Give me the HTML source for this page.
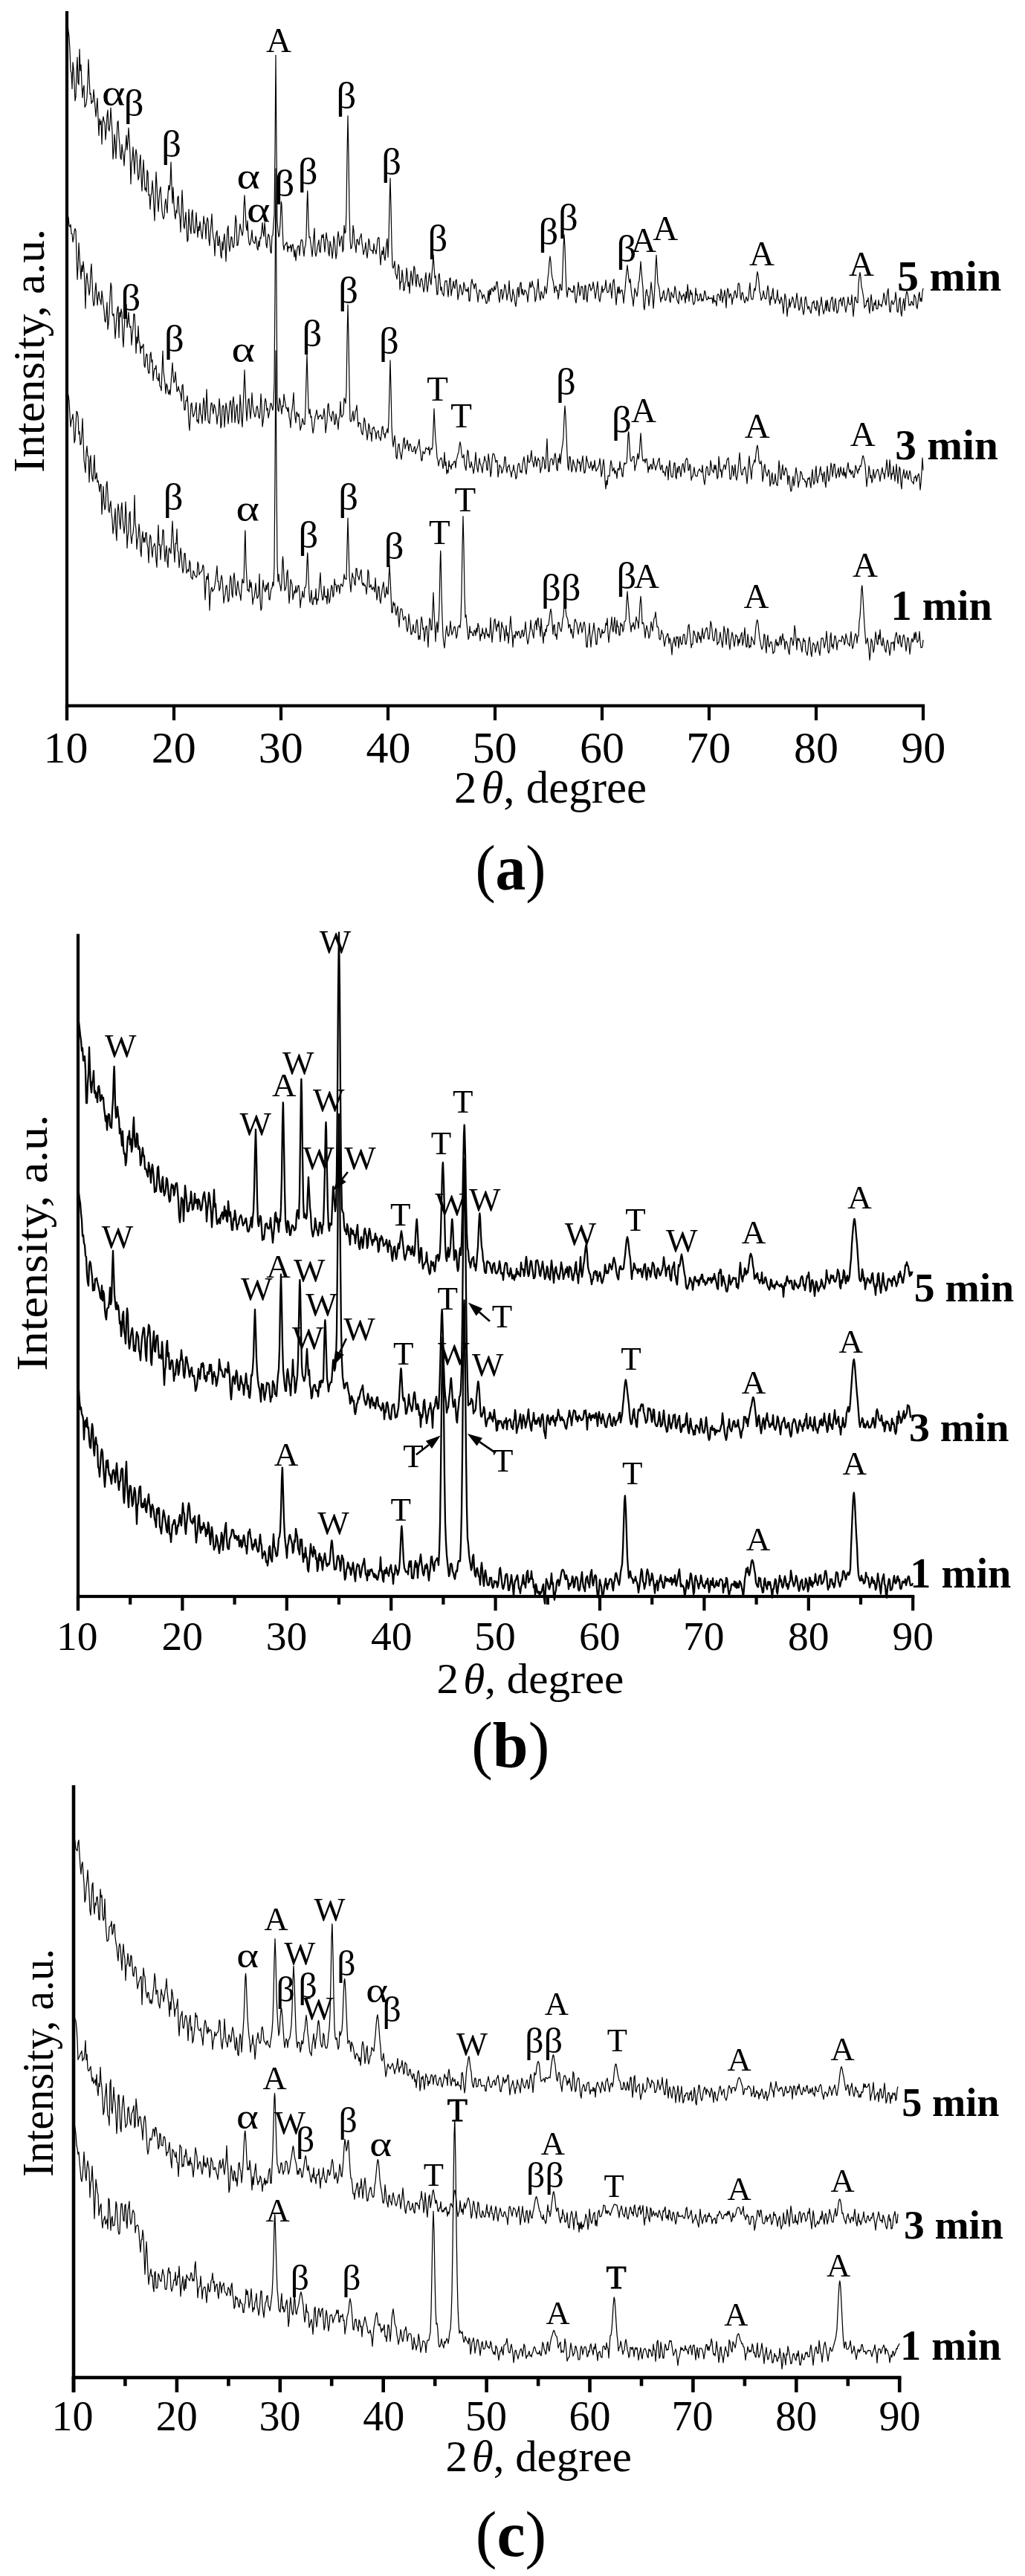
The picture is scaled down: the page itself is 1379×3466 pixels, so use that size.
<!DOCTYPE html><html><head><meta charset="utf-8"><style>html,body{margin:0;padding:0;background:#fff}svg{display:block;will-change:transform}text{font-family:"Liberation Serif", serif;fill:#000}</style></head><body>
<svg width="1379" height="3466" viewBox="0 0 1379 3466">
<rect width="1379" height="3466" fill="#fff"/>
<rect x="87.9" y="15" width="4.2" height="954.2"/>
<rect x="87.9" y="947.5" width="1156.2" height="4.2"/>
<rect x="87.9" y="949.6" width="4.2" height="19.6"/>
<text x="58.5" y="1026" font-size="60">10</text>
<rect x="231.9" y="949.6" width="4.2" height="19.6"/>
<text x="203.8" y="1026" font-size="60">20</text>
<rect x="375.9" y="949.6" width="4.2" height="19.6"/>
<text x="347.7" y="1026" font-size="60">30</text>
<rect x="519.9" y="949.6" width="4.2" height="19.6"/>
<text x="492.6" y="1026" font-size="60">40</text>
<rect x="663.9" y="949.6" width="4.2" height="19.6"/>
<text x="635.4" y="1026" font-size="60">50</text>
<rect x="807.9" y="949.6" width="4.2" height="19.6"/>
<text x="779.9" y="1026" font-size="60">60</text>
<rect x="951.9" y="949.6" width="4.2" height="19.6"/>
<text x="923.2" y="1026" font-size="60">70</text>
<rect x="1095.9" y="949.6" width="4.2" height="19.6"/>
<text x="1068" y="1026" font-size="60">80</text>
<rect x="1239.9" y="949.6" width="4.2" height="19.6"/>
<text x="1212.2" y="1026" font-size="60">90</text>
<text x="611" y="1080" font-size="61" textLength="259" lengthAdjust="spacingAndGlyphs">2<tspan font-style="italic" dx="6">θ</tspan>, degree</text>
<text transform="translate(59,636) rotate(-90)" x="0" y="0" font-size="60" textLength="328" lengthAdjust="spacingAndGlyphs">Intensity, a.u.</text>
<text transform="translate(643,1197.3) scale(0.949,1)" x="-3.8" y="0" font-size="86">(<tspan font-weight="bold">a</tspan>)</text>
<rect x="102.9" y="1256.6" width="4.2" height="910.5"/>
<rect x="102.9" y="2145.9" width="1127.4" height="4.2"/>
<rect x="102.9" y="2148" width="4.2" height="19.1"/>
<text x="75.9" y="2220" font-size="55.5">10</text>
<rect x="173.1" y="2148" width="4.2" height="10.9"/>
<rect x="243.3" y="2148" width="4.2" height="19.1"/>
<text x="217.5" y="2220" font-size="55.5">20</text>
<rect x="313.5" y="2148" width="4.2" height="10.9"/>
<rect x="383.7" y="2148" width="4.2" height="19.1"/>
<text x="357.8" y="2220" font-size="55.5">30</text>
<rect x="453.9" y="2148" width="4.2" height="10.9"/>
<rect x="524.1" y="2148" width="4.2" height="19.1"/>
<text x="499" y="2220" font-size="55.5">40</text>
<rect x="594.3" y="2148" width="4.2" height="10.9"/>
<rect x="664.5" y="2148" width="4.2" height="19.1"/>
<text x="638.3" y="2220" font-size="55.5">50</text>
<rect x="734.7" y="2148" width="4.2" height="10.9"/>
<rect x="804.9" y="2148" width="4.2" height="19.1"/>
<text x="779.1" y="2220" font-size="55.5">60</text>
<rect x="875.1" y="2148" width="4.2" height="10.9"/>
<rect x="945.3" y="2148" width="4.2" height="19.1"/>
<text x="918.9" y="2220" font-size="55.5">70</text>
<rect x="1015.5" y="2148" width="4.2" height="10.9"/>
<rect x="1085.7" y="2148" width="4.2" height="19.1"/>
<text x="1060" y="2220" font-size="55.5">80</text>
<rect x="1155.9" y="2148" width="4.2" height="10.9"/>
<rect x="1226.1" y="2148" width="4.2" height="19.1"/>
<text x="1200.6" y="2220" font-size="55.5">90</text>
<text x="587.5" y="2278" font-size="57" textLength="251.8" lengthAdjust="spacingAndGlyphs">2<tspan font-style="italic" dx="6">θ</tspan>, degree</text>
<text transform="translate(62.9,1844.6) rotate(-90)" x="0" y="0" font-size="60" textLength="344.8" lengthAdjust="spacingAndGlyphs">Intensity, a.u.</text>
<text transform="translate(638,2376.7) scale(1.0,1)" x="-3.8" y="0" font-size="86">(<tspan font-weight="bold">b</tspan>)</text>
<rect x="96.7" y="2402" width="4.6" height="816.8"/>
<rect x="96.7" y="3196.7" width="1115.8" height="4.6"/>
<rect x="96.7" y="3199" width="4.6" height="19.8"/>
<text x="69.6" y="3270" font-size="56">10</text>
<rect x="166.1" y="3199" width="4.6" height="11.4"/>
<rect x="235.6" y="3199" width="4.6" height="19.8"/>
<text x="209.7" y="3270" font-size="56">20</text>
<rect x="305.1" y="3199" width="4.6" height="11.4"/>
<rect x="374.5" y="3199" width="4.6" height="19.8"/>
<text x="348.5" y="3270" font-size="56">30</text>
<rect x="443.9" y="3199" width="4.6" height="11.4"/>
<rect x="513.4" y="3199" width="4.6" height="19.8"/>
<text x="488.2" y="3270" font-size="56">40</text>
<rect x="582.9" y="3199" width="4.6" height="11.4"/>
<rect x="652.3" y="3199" width="4.6" height="19.8"/>
<text x="626" y="3270" font-size="56">50</text>
<rect x="721.8" y="3199" width="4.6" height="11.4"/>
<rect x="791.2" y="3199" width="4.6" height="19.8"/>
<text x="765.4" y="3270" font-size="56">60</text>
<rect x="860.7" y="3199" width="4.6" height="11.4"/>
<rect x="930.1" y="3199" width="4.6" height="19.8"/>
<text x="903.6" y="3270" font-size="56">70</text>
<rect x="999.6" y="3199" width="4.6" height="11.4"/>
<rect x="1069" y="3199" width="4.6" height="19.8"/>
<text x="1043.3" y="3270" font-size="56">80</text>
<rect x="1138.5" y="3199" width="4.6" height="11.4"/>
<rect x="1207.9" y="3199" width="4.6" height="19.8"/>
<text x="1182.4" y="3270" font-size="56">90</text>
<text x="599.5" y="3324.7" font-size="60" textLength="250.5" lengthAdjust="spacingAndGlyphs">2<tspan font-style="italic" dx="6">θ</tspan>, degree</text>
<text transform="translate(70.7,2929) rotate(-90)" x="0" y="0" font-size="60" textLength="307" lengthAdjust="spacingAndGlyphs">Intensity, a.u.</text>
<text transform="translate(643.6,3438.7) scale(1.0,1)" x="-3.8" y="0" font-size="86">(<tspan font-weight="bold">c</tspan>)</text>
<polyline fill="none" stroke="#000" stroke-width="1.2" stroke-linejoin="round" points="91,32 92,42.1 93,49.2 94,67.7 95,95.6 96,97.8 97,119.5 98,83.8 99,92.9 100,113.7 101,135.6 102,130.2 103,96.2 104,77 105,111.6 106,113.9 107,66 108,95.2 109,87.2 110,113.3 111,131.5 112,118.8 113,114.8 114,144.2 115,142.6 116,139.7 117,130.7 118,110.8 119,80 120,103.4 121,126.8 122,125.4 123,139.4 124,136.1 125,137.2 126,120.7 127,131.4 128,144.7 129,157 130,144.2 131,132.1 132,158.5 133,182.3 134,159.9 135,167.4 136,162.6 137,194 138,163 139,156.8 140,163.6 141,165.5 142,187.9 143,175.5 144,155.7 145,148 146,173.2 147,176.3 148,166.2 149,145 150,161.8 151,177.9 152,214 153,203.5 154,180.8 155,192.4 156,213.2 157,187.2 158,164.8 159,162.7 160,183.7 161,194.6 162,211.5 163,214.6 164,194.4 165,203.7 166,210.2 167,222.9 168,204.6 169,198.5 170,182.1 171,201.6 172,189.5 173,172 174,187.9 175,206.9 176,247.6 177,220.2 178,213.7 179,197.8 180,216.6 181,234 182,209.2 183,201 184,207.9 185,229.1 186,242.1 187,237.7 188,217.6 189,208.3 190,238.8 191,257 192,235.4 193,215.2 194,234.2 195,255.7 196,252.8 197,258.1 198,229 199,232.4 200,262.7 201,261.8 202,281.4 203,263.5 204,259.5 205,243.2 206,256.7 207,278.4 208,296.9 209,264 210,231.3 211,249 212,268.8 213,284.5 214,267.4 215,256.7 216,251.4 217,267.8 218,283.4 219,291.3 220,294.7 221,290.1 222,273.2 223,267.7 224,277.7 225,286.4 226,261 227,249.3 228,255.6 229,246.7 230,218 231,248.5 232,273.5 233,252 234,274.5 235,288.2 236,294.6 237,282.9 238,286.4 239,265.7 240,263.8 241,286.7 242,292.3 243,312.2 244,282.9 245,255.9 246,277.4 247,303.1 248,307.6 249,296.2 250,285.5 251,305.8 252,325.1 253,323 254,281.5 255,297.7 256,308.7 257,314.3 258,287.5 259,282.3 260,303.4 261,313.7 262,313.4 263,301.5 264,286 265,304.3 266,319.1 267,304.5 268,310.4 269,298 270,307.1 271,315.4 272,321.5 273,309.3 274,290.8 275,300.6 276,301.3 277,321.4 278,299.4 279,292.9 280,297.1 281,322.6 282,330.5 283,312 284,302.1 285,287.9 286,310.5 287,319.8 288,324.2 289,344.1 290,321.1 291,313.7 292,310.4 293,330.2 294,330.5 295,317.5 296,326.9 297,343.3 298,347.3 299,325.3 300,336.3 301,321.1 302,314.5 303,330.5 304,351.7 305,329.5 306,307.8 307,303.8 308,329.6 309,338.3 310,329 311,318.5 312,319.6 313,330.7 314,333.3 315,328.4 316,308.3 317,289.9 318,297.9 319,330.4 320,329.7 321,321.8 322,311.5 323,301.4 324,308 325,312.3 326,317.2 327,311.2 328,279 329,262.9 330,279.5 331,303.3 332,310.2 333,297.1 334,317.3 335,326.8 336,329.9 337,326.6 338,319.1 339,309.6 340,324.3 341,325 342,327.2 343,327.3 344,317.8 345,323.2 346,333.9 347,336.5 348,324.1 349,331.6 350,319.5 351,320.9 352,311.1 353,299.6 354,312.2 355,318.1 356,299.6 357,309.8 358,328.6 359,333.5 360,321.3 361,314.9 362,317.1 363,323.6 364,339.2 365,340.7 366,317.2 367,316.8 368,301.5 369,288.6 370,202.2 371,74.3 372,201 373,297.4 374,310.8 375,318.7 376,315.8 377,301.1 378,276 378.5,271.4 379,276.6 380,304.1 381,329.1 382,336.3 383,330 384,329.5 385,327.1 386,325.8 387,338.8 388,331.1 389,333.7 390,333.1 391,329.4 392,338.6 393,330.8 394,328.5 395,335.3 396,345.6 397,336.2 398,350.7 399,341 400,333.7 401,330.8 402,330.8 403,343.7 404,331 405,323 406,322.4 407,324.4 408,336.9 409,344.6 410,332.7 411,330.8 412,319.3 413,276.3 413.7,256.9 414,261.2 415,301.2 416,319.7 417,318.8 418,327 419,335.5 420,345.2 421,333.6 422,319.4 423,307.1 424,339.9 425,344.8 426,340.1 427,332.7 428,328 429,322.8 430,338.2 431,339.8 432,325.5 433,316.1 434,319.7 435,315.2 436,328 437,339 438,324.8 439,313 440,321.4 441,325 442,340.5 443,344.3 444,324.5 445,330.1 446,335 447,347.7 448,338 449,317.8 450,322.8 451,335.6 452,348.1 453,341.8 454,320.9 455,311.5 456,319.5 457,331.4 458,325.3 459,320 460,317.4 461,339 462,335.6 463,303.4 464,313.6 465,312.3 466,283.9 467,208.9 468,155.9 469,209.8 470,283.9 471,321.7 472,334.7 473,333.7 474,326.6 475,303.3 476,310.9 477,327.1 478,330.9 479,339.8 480,322.6 481,321.9 482,327 483,329.7 484,320.6 485,317.9 486,314.3 487,327.2 488,333.2 489,342.7 490,337.9 491,334.6 492,326.4 493,340.7 494,347.1 495,337.1 496,321.2 497,324.7 498,336 499,336.5 500,337.2 501,336.8 502,341.4 503,327.8 504,336.1 505,336.9 506,341.9 507,333 508,321.9 509,319.6 510,320.1 511,342.7 512,356.4 513,344.3 514,337.3 515,342.7 516,332 517,346.3 518,350.4 519,339.4 520,327.4 521,321.2 522,346.1 523,321.4 524,274.5 525,239.9 526,278.8 527,328.8 528,358.2 529,361 530,357.2 531,351.3 532,368.1 533,370.5 534,375.7 535,366.3 536,355.9 537,359.6 538,389.7 539,379.2 540,379.3 541,363.3 542,372.2 543,391.1 544,390.5 545,379.9 546,379.1 547,360.5 548,368.9 549,385.3 550,379.5 551,394.6 552,376.1 553,364.5 554,373.7 555,384 556,370.8 557,358.1 558,361 559,378.7 560,385.6 561,369.5 562,369.6 563,377.9 564,383.1 565,386.3 566,376.4 567,374.6 568,377.5 569,385.3 570,392.9 571,388.1 572,374.3 573,366.8 574,383.5 575,392.8 576,384 577,372.6 578,367.2 579,378.4 580,383.1 581,369.2 582,356.2 583,343 584,359 585,373.9 586,371 587,384.7 588,396.7 589,395.3 590,370.9 591,368 592,378.3 593,390.8 594,386 595,394.6 596,395.6 597,398.3 598,384.1 599,377.8 600,378.1 601,377.7 602,389.6 603,399.3 604,386.7 605,374.7 606,373.9 607,397.8 608,390.6 609,386.5 610,378.3 611,386.2 612,388.2 613,378.1 614,376.1 615,386.3 616,403.2 617,397.5 618,390.2 619,382.9 620,386.3 621,392.7 622,396.8 623,392.9 624,379.9 625,383.5 626,390.3 627,391.6 628,389 629,392.4 630,386.5 631,404.9 632,405.1 633,393 634,380.4 635,375.7 636,382 637,382.8 638,388.7 639,382.9 640,381.6 641,391.5 642,396.1 643,406.5 644,398.1 645,390.1 646,390.4 647,393.2 648,395.2 649,402.2 650,397.8 651,396.3 652,400 653,402.2 654,408.1 655,408.1 656,403 657,391 658,405.4 659,389.5 660,396.6 661,388.7 662,387.5 663,391.4 664,392.3 665,384.8 666,390.2 667,387.7 668,379.2 669,379.1 670,388.9 671,400.7 672,406.8 673,397.7 674,389.7 675,389.7 676,402.8 677,398 678,392.2 679,382.6 680,384.9 681,392.9 682,404 683,396.5 684,393.9 685,377.8 686,393.5 687,401.4 688,406.4 689,402 690,389.1 691,395.2 692,398.3 693,408.2 694,412.5 695,403.6 696,389.1 697,386.4 698,399.6 699,390.9 700,380.8 701,380 702,395.7 703,389.1 704,397 705,396.2 706,390.2 707,391.1 708,393.2 709,396.8 710,406.4 711,396.1 712,387.4 713,379.6 714,386.9 715,385.4 716,378.1 717,384.4 718,386.7 719,389.2 720,405.9 721,402.7 722,393.8 723,385.7 724,375.4 725,392.1 726,399 727,403.9 728,392.1 729,394 730,399.6 731,401.4 732,395.5 733,385.2 734,389.7 735,395.1 736,386.4 737,374.6 738,366.9 739,352.7 740,344.8 741,352.3 742,367 743,373.7 744,377.5 745,383.7 746,393.9 747,386.6 748,384.8 749,391.6 750,390.6 751,402.4 752,395.2 753,382.6 754,382.9 755,390.5 756,389.9 757,363.9 758,332.9 759,315.8 760,333 761,364.6 762,390.1 763,399.9 764,392 765,386.7 766,389.9 767,388.2 768,391.9 769,392.9 770,391.5 771,393.8 772,384 773,386.7 774,403.6 775,407.6 776,398.8 777,392.1 778,379.5 779,387.1 780,397.9 781,394.4 782,385.6 783,385.3 784,388 785,403 786,402.9 787,383.9 788,384.6 789,402.4 790,406.4 791,392.2 792,385 793,382 794,385.2 795,391.2 796,388.5 797,387.8 798,379.4 799,385.3 800,394.1 801,401.8 802,393.8 803,386.8 804,378.9 805,393 806,402.8 807,406.1 808,399.3 809,392.7 810,384.6 811,393.5 812,389.5 813,389.8 814,387 815,376.8 816,386.8 817,393.5 818,393.3 819,392.6 820,385.4 821,380.8 822,391.4 823,401.3 824,386.8 825,377.6 826,375.7 827,387.1 828,397.2 829,410.1 830,398.8 831,386.2 832,394.7 833,385.5 834,395 835,392.3 836,390.2 837,390.4 838,397.4 839,407.9 840,397.2 841,388.9 842,375.5 843,365.3 844,356.8 845,366.4 846,375.6 847,380.5 848,375.4 849,388.5 850,397.6 851,402 852,412 853,401.6 854,387.8 855,392.1 856,394.4 857,399 858,392.3 859,380.5 860,377.4 861,365.8 862,351.8 863,365.4 864,377.1 865,387.6 866,412.1 867,416.8 868,405.1 869,393 870,389.3 871,397.3 872,398.4 873,411.4 874,402.4 875,392.3 876,379.5 877,389.2 878,399.1 879,414.9 880,402.2 881,384.2 882,359.1 883,343.4 884,361.6 885,380.4 886,384.3 887,388.5 888,399.4 889,406.4 890,400.2 891,401.5 892,393.7 893,390.8 894,399.3 895,404.5 896,403.1 897,398.9 898,393.4 899,387.5 900,392.1 901,404.2 902,407 903,393 904,395.5 905,398.8 906,400.8 907,394.8 908,385 909,389.7 910,399.2 911,404 912,406.3 913,408.9 914,391.9 915,395.7 916,397.9 917,403.9 918,397.9 919,398.1 920,395.3 921,400.8 922,407.6 923,392.5 924,401.4 925,382.7 926,391.4 927,405.4 928,396.2 929,390.1 930,396.4 931,394.1 932,405.1 933,409.9 934,408.7 935,405.1 936,387.5 937,397.2 938,396 939,405 940,403.4 941,403.5 942,395.3 943,395.7 944,405.1 945,402.2 946,405 947,398.4 948,391.2 949,393.6 950,400.6 951,403.7 952,402.6 953,398.8 954,402.2 955,401.4 956,401.2 957,401.3 958,400.9 959,408.2 960,397.3 961,406.3 962,404.4 963,406.2 964,411.7 965,396.9 966,395.6 967,396.8 968,399.7 969,404.6 970,388.9 971,393.2 972,407.1 973,400.6 974,397.3 975,390.3 976,401.9 977,414.2 978,395.1 979,387.9 980,391.1 981,401 982,396.5 983,395.1 984,399.5 985,409.6 986,401 987,401.3 988,392.9 989,390.9 990,395.8 991,400.9 992,397.7 993,382.2 994,380.8 995,384.1 996,398.6 997,403.7 998,394.7 999,393.4 1000,398 1001,404 1002,407.6 1003,404.9 1004,399.3 1005,402.5 1006,405.1 1007,400.4 1008,389.1 1009,380.7 1010,396.8 1011,402.3 1012,403.1 1013,402.2 1014,393.8 1015,387.8 1016,391.2 1017,383.4 1018,371.7 1019,365.6 1020,370.6 1021,379.3 1022,392.5 1023,395.1 1024,404.1 1025,401.3 1026,400 1027,391.2 1028,396 1029,401.1 1030,402.4 1031,401.2 1032,391.7 1033,384.4 1034,390.3 1035,404.3 1036,410.7 1037,399 1038,403 1039,393 1040,387.9 1041,402.1 1042,402.3 1043,408.3 1044,403.6 1045,400.2 1046,390.1 1047,403.8 1048,403.3 1049,408.8 1050,405 1051,399.6 1052,403.4 1053,412.1 1054,422 1055,407.3 1056,395.4 1057,399.2 1058,408.1 1059,425.7 1060,414.7 1061,414 1062,402.1 1063,413.1 1064,407 1065,406.9 1066,399.3 1067,401.6 1068,406.5 1069,414.4 1070,413.1 1071,403 1072,394.3 1073,402.8 1074,410.4 1075,417.6 1076,415 1077,404.4 1078,399.6 1079,411.5 1080,416.8 1081,423.4 1082,418.5 1083,402.2 1084,399.1 1085,405.4 1086,412.3 1087,416.2 1088,412 1089,414.1 1090,418.9 1091,421.6 1092,414.2 1093,406.7 1094,407.4 1095,404.6 1096,414.5 1097,413.9 1098,418 1099,404.4 1100,407.2 1101,415.3 1102,424.9 1103,411.1 1104,410.3 1105,399.5 1106,408.7 1107,416.7 1108,422.4 1109,418.7 1110,414.8 1111,404.7 1112,417.9 1113,403.6 1114,410.3 1115,417.9 1116,419.3 1117,409.2 1118,403.9 1119,400 1120,399.7 1121,415.1 1122,419 1123,407.5 1124,401.5 1125,412.3 1126,421.3 1127,419.8 1128,415.5 1129,403.9 1130,404.9 1131,400.8 1132,408.1 1133,411.8 1134,401.6 1135,399.9 1136,405.7 1137,414.5 1138,420.1 1139,413.4 1140,409.4 1141,399.5 1142,407.3 1143,409.9 1144,409.9 1145,407.8 1146,396.9 1147,412.8 1148,425.8 1149,414.9 1150,400.3 1151,399.7 1152,404.8 1153,407.1 1154,407.3 1155,383.1 1156,372.1 1157,366.6 1158,372.9 1159,385.8 1160,389.5 1161,395.6 1162,402 1163,414.3 1164,411.4 1165,411.7 1166,404.3 1167,405.8 1168,400.6 1169,415 1170,421.5 1171,407.1 1172,396.4 1173,405.3 1174,418.4 1175,417.2 1176,407.3 1177,410.4 1178,403.6 1179,415.5 1180,415.7 1181,415.5 1182,403.5 1183,410.4 1184,410.3 1185,409.8 1186,413 1187,408 1188,404 1189,394.2 1190,397.6 1191,406.8 1192,410.6 1193,401.6 1194,392.2 1195,388.4 1196,406.2 1197,419 1198,420 1199,407 1200,404.3 1201,409.1 1202,409.5 1203,406.5 1204,403.9 1205,393 1206,402.4 1207,418.6 1208,420.3 1209,413.5 1210,402.6 1211,400.4 1212,420.5 1213,425.4 1214,413 1215,406.8 1216,401.5 1217,417.7 1218,408 1219,395.9 1220,392 1221,394.6 1222,401.3 1223,411.2 1224,409.9 1225,410.9 1226,405.4 1227,406.1 1228,410 1229,410.8 1230,396.4 1231,398.6 1232,401.3 1233,412.8 1234,415.4 1235,406.6 1236,396.8 1237,393.1 1238,405.3 1239,401.3 1240,405.8 1241,392.8 1242,387.9"/>
<polyline fill="none" stroke="#000" stroke-width="1.2" stroke-linejoin="round" points="91,290 92,292.2 93,303.6 94,305.2 95,302.1 96,314.4 97,314.3 98,325.7 99,320.8 100,311.2 101,307.5 102,310.7 103,343.6 104,376.1 105,358.7 106,326.8 107,344.8 108,361.1 109,375.4 110,356.8 111,365.4 112,351.8 113,362.2 114,382.9 115,415.1 116,375.9 117,367.6 118,378.6 119,386.6 120,397.1 121,389.8 122,365.2 123,355 124,377.5 125,403.2 126,411.6 127,408.9 128,391.1 129,380.6 130,396.4 131,410.6 132,398.4 133,392.4 134,402.3 135,404.5 136,410 137,391.4 138,400 139,409.2 140,416.9 141,431.4 142,433.4 143,423 144,406.8 145,443.3 146,435.2 147,420.5 148,399.9 149,380.7 150,385.7 151,422 152,424.8 153,422.1 154,436 155,455.4 156,441.6 157,424.8 158,414.5 159,412.3 160,454.3 161,420.2 162,426.3 163,415.9 164,420.8 165,453.8 166,466.9 167,443.8 168,427.5 169,418.7 170,409.6 171,440.6 172,433.1 173,420 174,435.2 175,440.6 176,439.1 177,464.2 178,450.1 179,441.2 180,422.3 181,422.8 182,441.7 183,475.3 184,453.3 185,461.8 186,438.7 187,458.6 188,461.1 189,475.4 190,465.8 191,468.4 192,465.2 193,463 194,491.2 195,494.4 196,482.3 197,476.1 198,477.3 199,497.2 200,502.5 201,501.4 202,477.5 203,473.8 204,487.1 205,484.2 206,512.1 207,501.2 208,495.7 209,496.1 210,491.5 211,509.1 212,509.3 213,512.6 214,502.4 215,519.8 216,520.1 217,525.7 218,498.9 219,472.1 220,499.6 221,507.8 222,516.2 223,529.6 224,516.3 225,519.2 226,526.9 227,530.7 228,524.5 229,531.1 230,516.7 231,501.4 232,488 233,504.9 234,515 235,512.4 236,500.3 237,512.2 238,526.9 239,525.7 240,519.8 241,524.7 242,527.1 243,530.3 244,539.6 245,519.2 246,517.2 247,533.1 248,551.7 249,551.7 250,539 251,539.6 252,532.6 253,546.2 254,568.9 255,579.1 256,562.9 257,544 258,542.1 259,554.7 260,561 261,558.3 262,554.6 263,549.1 264,541.7 265,567.2 266,564.9 267,569.6 268,552.9 269,542.5 270,557.6 271,559.6 272,570 273,550.9 274,535.3 275,542.5 276,565.9 277,554.2 278,523.9 279,546.2 280,565.5 281,568.7 282,569.8 283,553.6 284,542.7 285,542 286,550.7 287,556.8 288,544 289,546.8 290,550.6 291,558.7 292,570.6 293,559.6 294,558.1 295,536.3 296,547.2 297,575.9 298,572 299,549.1 300,545.3 301,548.2 302,574.6 303,558.5 304,542.3 305,548.5 306,558.1 307,570.3 308,557.6 309,543.5 310,538.8 311,548.8 312,568.5 313,541.2 314,533.8 315,545.5 316,568.6 317,559.3 318,548.2 319,544.1 320,565.2 321,570.5 322,564.3 323,531.2 324,544.7 325,564.8 326,574.4 327,550.7 328,524.9 329,497.9 330,522.5 331,548.5 332,566.2 333,551.7 334,537.9 335,536.2 336,552.3 337,563.2 338,549.5 339,528.6 340,545.5 341,552 342,556.6 343,561.1 344,558.5 345,548.3 346,546.2 347,551.7 348,560.7 349,563 350,552.9 351,529.8 352,544 353,574.1 354,567.4 355,558.5 356,543.1 357,536 358,540.7 359,552.2 360,549.3 361,562.5 362,557.5 363,551.1 364,542.6 365,542.8 366,548.2 367,552 368,542.7 369,513.9 370,391.5 371,226.9 372,393.3 373,537.7 374,551.2 375,553.6 376,535.6 377,539.9 378,548.8 379,556.9 380,545.8 381,547.3 382,530.4 383,538 384,543.9 385,549.3 386,548.7 387,553.7 388,548.2 389,561.3 390,565.2 391,575.4 392,555.8 393,551.1 394,541.4 395,528.3 396,551.7 397,561.3 398,568.8 399,554.4 400,555.8 401,560.5 402,556.9 403,565.4 404,578.9 405,574.6 406,570.9 407,563.1 408,567 409,571.1 410,571 411,549 412,509.6 413,476.5 414,514.3 415,549.2 416,557 417,550.3 418,561.6 419,560.1 420,573.3 421,582.8 422,577.7 423,568.7 424,560.7 425,557.3 426,551.6 427,557.7 428,564.2 429,560.2 430,560.4 431,558.1 432,559.1 433,563.8 434,563.5 435,559 436,549.7 437,559 438,582.3 439,574.5 440,566.2 441,545.3 442,542.8 443,555.7 444,560.1 445,561.3 446,566.8 447,556 448,553.3 449,558.1 450,571.3 451,570.3 452,556.8 453,563.5 454,568.5 455,577.8 456,562.7 457,560.9 458,540.1 459,559.2 460,561.2 461,559 462,556.9 463,535.7 464,537.9 465,542.7 466,525.3 467,456.6 468,410 469,456.4 470,519.1 471,565.2 472,567.5 473,565.1 474,557.9 475,553.2 476,566.4 477,562.5 478,553.7 479,551.7 480,545.2 481,561.1 482,574.4 483,568.4 484,569.4 485,569.5 486,579.5 487,583.7 488,585 489,573 490,562.1 491,566 492,577.6 493,580.3 494,592 495,584.1 496,569.9 497,573.1 498,583.3 499,582.3 500,593.8 501,576.2 502,576.3 503,574.4 504,579 505,580.8 506,590.8 507,582.3 508,581 509,579.4 510,588.9 511,588.9 512,592.9 513,585.7 514,574.8 515,573.6 516,584 517,583.7 518,589.3 519,582.2 520,581.7 521,576.8 522,582.4 523,564.2 524,523.5 525,484.9 526,524.3 527,573.6 528,591.6 529,601.1 530,593.4 531,586 532,597.1 533,615 534,617.5 535,606.4 536,597.5 537,597.2 538,607.4 539,612.4 540,618.1 541,609.3 542,602.4 543,590.9 544,588.8 545,604 546,598.9 547,598.2 548,592 549,599.6 550,606.7 551,597.6 552,597.3 553,600.9 554,606.7 555,607.8 556,607.2 557,602.4 558,600.7 559,610.7 560,606.3 561,603.6 562,600.7 563,596.2 564,591.1 565,603.9 566,609.7 567,620.1 568,619.1 569,607.2 570,609.3 571,610.6 572,607.5 573,602.2 574,603.8 575,603.9 576,605.2 577,601.1 578,612.2 579,605.4 580,603.1 581,604.6 582,600.7 583,575.6 584,549.9 585,573.4 586,591.8 587,600.2 588,615.7 589,619 590,626.9 591,621.6 592,618.2 593,616.4 594,616 595,622.4 596,630.5 597,624.1 598,608.7 599,626.4 600,621.5 601,637.7 602,632.4 603,636.2 604,619.8 605,627.7 606,626.9 607,631.3 608,624.6 609,625.6 610,622.7 611,620.9 612,620.4 613,629.5 614,618.6 615,615.4 616,610.9 617,608.7 618,599.2 619,594.6 620,600.1 621,610.4 622,616 623,614.8 624,611.5 625,624.2 626,629.2 627,633 628,617.7 629,605.7 630,607.6 631,620.2 632,628.9 633,628.9 634,621.1 635,626.4 636,629.5 637,637.1 638,631.7 639,620.9 640,608.6 641,623.6 642,630.3 643,635.2 644,625.2 645,616.5 646,623.9 647,625.7 648,631 649,636.1 650,624 651,622.1 652,613.8 653,619.1 654,620.5 655,632.4 656,632.8 657,610.7 658,618 659,625.8 660,641.5 661,635.6 662,618.8 663,610.8 664,610.3 665,611.9 666,616.4 667,622.2 668,619.5 669,619.9 670,642 671,635.5 672,625.3 673,627.7 674,628 675,636.7 676,635.2 677,630.2 678,627.1 679,614.5 680,615.1 681,630.4 682,635.8 683,627.9 684,627.9 685,625.1 686,632.9 687,635.4 688,642 689,634.1 690,633 691,625.7 692,632.9 693,635.9 694,644.4 695,642.6 696,633.3 697,625.3 698,623.2 699,626.4 700,635.4 701,633.5 702,636.3 703,625.4 704,619.3 705,614.6 706,623.7 707,632.9 708,638.1 709,628.5 710,612.4 711,620.9 712,622.5 713,620.6 714,613.6 715,606.1 716,619.9 717,621.8 718,628.4 719,624.4 720,614.2 721,619.8 722,627.9 723,621.2 724,616.2 725,619.2 726,619.5 727,636.2 728,630.6 729,628.6 730,614.7 731,615.7 732,618.9 733,630.9 734,629.7 735,607.8 736,590.3 737,618.1 738,634.9 739,634.1 740,621.2 741,617.8 742,616.8 743,617.8 744,625.6 745,622.1 746,613 747,609.8 748,618.1 749,631.1 750,633.4 751,616.7 752,622.2 753,610.8 754,623.9 755,612.2 756,603.4 757,597.8 758,588.1 759,561.7 760,546 761,560.4 762,583.8 763,609.6 764,628 765,632.7 766,614.6 767,614.4 768,623.8 769,635 770,631.9 771,618.7 772,622.5 773,626.7 774,629.2 775,635.2 776,628.8 777,617.5 778,621.7 779,623.4 780,621.1 781,634.3 782,626.3 783,620.5 784,613.3 785,627.1 786,636.6 787,635.8 788,628.8 789,613.7 790,619.5 791,622.9 792,628.3 793,629.9 794,628 795,620.9 796,627 797,633.2 798,626 799,629.8 800,619.4 801,627.5 802,634.1 803,631.9 804,630.7 805,627.5 806,625.5 807,616.9 808,626.1 809,641.5 810,636.5 811,626.3 812,618.1 813,627.4 814,647.1 815,657.8 816,646.4 817,652.4 818,640.1 819,640.1 820,640.8 821,626.8 822,619.5 823,624.5 824,633.8 825,632.5 826,629.2 827,637.3 828,633.1 829,636 830,643.6 831,631.1 832,630.6 833,632.8 834,620.8 835,630.6 836,630.4 837,640.3 838,641.5 839,628.3 840,622.7 841,624.5 842,623.4 843,622.9 844,608.5 845,585.6 845.6,580.9 846,582.5 847,600.2 848,617.3 849,620.9 850,619.6 851,615 852,614.1 853,614.6 854,633.3 855,627.2 856,624.7 857,617.7 858,610.2 859,617.7 860,613.3 861,597.1 862,582.9 863,597 864,613.1 865,620.1 866,620.1 867,618 868,622.9 869,617.3 870,617.3 871,624.7 872,635.9 873,627.7 874,631.4 875,625.4 876,624.6 877,631.2 878,630.3 879,616.7 880,624.2 881,626.1 882,632.6 883,628.5 884,625.7 885,621.6 886,618.2 887,616.4 888,629.5 889,632.4 890,626.2 891,625.9 892,636 893,634.2 894,636 895,640.7 896,630.6 897,626.9 898,630.3 899,645.7 900,627.7 901,619.6 902,631.5 903,640.4 904,642 905,641.9 906,632 907,622.9 908,622.8 909,641.7 910,644.4 911,629.2 912,636 913,627.5 914,627.7 915,635.2 916,641.5 917,632.3 918,625.3 919,623.6 920,630.8 921,635.8 922,621.2 923,618 924,616.4 925,619 926,632.9 927,632.6 928,624.3 929,627.7 930,646.3 931,641.6 932,641.1 933,634.4 934,628.7 935,637.7 936,640.5 937,640.6 938,640.9 939,634.5 940,633.2 941,630.7 942,633.2 943,634.3 944,635.6 945,625.9 946,638.3 947,646.8 948,652.2 949,643.4 950,630.4 951,627.5 952,629.7 953,638.7 954,639.7 955,636.7 956,619.5 957,625.1 958,633.2 959,633.6 960,636.2 961,625.6 962,631.6 963,625.8 964,635.4 965,644.3 966,641.5 967,614 968,623.9 969,634.2 970,631.8 971,642.4 972,633.7 973,630.8 974,625.5 975,625.8 976,631.6 977,626 978,619.1 979,617.1 980,616 981,628.1 982,644.5 983,645.1 984,640.9 985,626.3 986,629.3 987,640.5 988,633.5 989,625.1 990,641.4 991,646.2 992,640.7 993,632 994,620.9 995,609.2 996,621.5 997,635.2 998,639.1 999,638.4 1000,631.4 1001,631.3 1002,627.8 1003,632.5 1004,640.3 1005,650.8 1006,639 1007,623.7 1008,613.6 1009,627.7 1010,635.3 1011,644.8 1012,629.7 1013,625.3 1014,623.4 1015,618.8 1016,622 1017,610.6 1018,602.9 1019,599 1020,605.4 1021,619 1022,623.6 1023,623.8 1024,620.1 1025,629.8 1026,648 1027,641.1 1028,628.2 1029,624.7 1030,634.7 1031,636.8 1032,640.8 1033,636.8 1034,631.9 1035,634.8 1036,654.2 1037,650.4 1038,640.3 1039,636.1 1040,651.2 1041,651.2 1042,646.5 1043,637.6 1044,648.7 1045,652.3 1046,653.6 1047,639.9 1048,619.9 1049,629.6 1050,643.8 1051,645.2 1052,632.1 1053,625.4 1054,637.9 1055,639.4 1056,633.6 1057,629.4 1058,631.1 1059,636.2 1060,651.9 1061,639.8 1062,641.2 1063,654.4 1064,661.2 1065,659.6 1066,646.8 1067,640.8 1068,653.8 1069,649.1 1070,637.9 1071,629.1 1072,636.7 1073,640.5 1074,655.9 1075,648.6 1076,646.8 1077,634.1 1078,635.3 1079,638.7 1080,645 1081,644.1 1082,644.9 1083,648.3 1084,647.1 1085,655.7 1086,649.4 1087,643.4 1088,644.7 1089,642.1 1090,651.5 1091,656.3 1092,640.3 1093,631.7 1094,646.4 1095,651.8 1096,648.8 1097,634.2 1098,627 1099,646.5 1100,649.8 1101,641.2 1102,640.3 1103,632.1 1104,627.8 1105,638.6 1106,637.6 1107,648.5 1108,638 1109,634.8 1110,649.2 1111,655.7 1112,640.9 1113,627 1114,638.2 1115,647.7 1116,643.9 1117,634.3 1118,623.1 1119,628.2 1120,641.3 1121,633.9 1122,624.6 1123,624.4 1124,636.7 1125,643.4 1126,637.9 1127,635.4 1128,629.7 1129,642 1130,637.4 1131,628.1 1132,634.3 1133,637.6 1134,639.5 1135,629.4 1136,640.6 1137,635.7 1138,643.7 1139,634.5 1140,627.9 1141,622.3 1142,631.1 1143,635.6 1144,631.8 1145,638.3 1146,635.1 1147,633.4 1148,642.1 1149,642.7 1150,636.6 1151,626.1 1152,629 1153,633.8 1154,637.2 1155,630.8 1156,632.4 1157,626.5 1158,627.8 1159,623.8 1160,616.9 1161,613 1162,615.5 1163,620.8 1164,625.9 1165,640.3 1166,654.7 1167,644.5 1168,641.9 1169,626.8 1170,632.3 1171,643.2 1172,639.6 1173,649.6 1174,645.9 1175,631.7 1176,638.1 1177,643.7 1178,639.1 1179,635.2 1180,632.4 1181,631.5 1182,635.7 1183,640.4 1184,647.6 1185,639.6 1186,634.1 1187,629.2 1188,637.3 1189,637.1 1190,644.4 1191,634.7 1192,631.1 1193,618.5 1194,627.7 1195,641.7 1196,637.9 1197,618.5 1198,629.3 1199,645.2 1200,636.8 1201,638.1 1202,627 1203,637.7 1204,647.3 1205,637.2 1206,624.6 1207,636.9 1208,650.4 1209,639.8 1210,628.2 1211,631.3 1212,650.5 1213,657.8 1214,641.8 1215,638.1 1216,631.7 1217,641.6 1218,643.4 1219,637.3 1220,633.4 1221,642.9 1222,645.1 1223,639 1224,633.4 1225,636.7 1226,646.3 1227,648.2 1228,648.5 1229,651.4 1230,642 1231,642.6 1232,639.7 1233,647.9 1234,643.2 1235,639.4 1236,637.2 1237,644.2 1238,659.1 1239,649.8 1240,634.7 1241,616.2 1242,632.7"/>
<polyline fill="none" stroke="#000" stroke-width="1.2" stroke-linejoin="round" points="91,530 92,531.6 93,539.8 94,558.4 95,574.1 96,566.1 97,563.3 98,557.4 99,570.7 100,595.8 101,591.5 102,570 103,553.4 104,554.7 105,560.6 106,584.2 107,580.5 108,598.4 109,597.4 110,584.6 111,563 112,590.1 113,618.8 114,627.3 115,635.8 116,608.9 117,600 118,613.5 119,614.2 120,648.9 121,620.7 122,612.8 123,635.2 124,643.7 125,647.9 126,628.1 127,612.3 128,644.6 129,642.9 130,636.2 131,648.6 132,646.8 133,653.8 134,661.6 135,651.7 136,651.8 137,691.9 138,674.6 139,654.3 140,675.4 141,685.8 142,682.5 143,652.6 144,647.7 145,664 146,686.4 147,689.6 148,679.3 149,674.2 150,690.9 151,698.8 152,717.9 153,709.8 154,698.1 155,684.2 156,715.7 157,727.3 158,690.7 159,678 160,688 161,703.6 162,712 163,684.5 164,676.4 165,697.5 166,708.8 167,717.8 168,706.8 169,675 170,694.3 171,737.5 172,721.7 173,715.1 174,690.9 175,688.3 176,720.3 177,731.5 178,721.3 179,717.7 180,706.3 181,666.3 182,703.7 183,711.7 184,739 185,726.8 186,722 187,705.1 188,715.7 189,740.9 190,748.9 191,723.2 192,715.2 193,730 194,723.7 195,729.7 196,717 197,716.5 198,731.7 199,737.3 200,757.3 201,730.8 202,719.5 203,723.1 204,741.3 205,749.7 206,735.9 207,733.7 208,731.1 209,736.7 210,753.9 211,763.3 212,731.2 213,706.4 214,733.7 215,732.5 216,753 217,735.1 218,732.8 219,712.8 220,713.3 221,738.7 222,755.4 223,742.2 224,734.3 225,756 226,763.4 227,739.8 228,737.2 229,742.8 230,744.8 231,719.3 232,701 233,722.8 234,741.3 235,756.3 236,731 237,731.7 238,711.8 239,741.1 240,742.5 241,763.6 242,752.7 243,737.3 244,744.9 245,762 246,770.8 247,765.3 248,744.9 249,744.4 250,758.2 251,771.1 252,768.6 253,766 254,769.2 255,754.2 256,758.1 257,776.7 258,777.4 259,779.6 260,767.8 261,769.5 262,774.5 263,774.8 264,777.1 265,774.8 266,756 267,759.1 268,773.5 269,770.8 270,769.5 271,769.2 272,766.5 273,760.1 274,762.4 275,782.7 276,806.9 277,786.6 278,775.3 279,779.5 280,771.3 281,787.4 282,821.1 283,800.8 284,792.7 285,790.2 286,796.1 287,794 288,792.9 289,787.4 290,779.8 291,771.6 292,761.3 293,782.5 294,782.2 295,795 296,791.7 297,780.8 298,774.1 299,779.2 300,793 301,811.5 302,803.8 303,799.7 304,789.2 305,787.3 306,798 307,809.8 308,807.7 309,786.8 310,774.5 311,779.3 312,799.1 313,804 314,778.3 315,770.8 316,781.7 317,798.1 318,801.7 319,788.8 320,781.8 321,790.6 322,797 323,801.2 324,808 325,790.9 326,779.1 327,784.1 328,784.1 329,741.5 329.8,713.9 330,716 331,760.7 332,777.6 333,794.4 334,793.3 335,796.4 336,780.2 337,790.4 338,783.6 339,796.1 340,813.1 341,804.8 342,804.3 343,795.4 344,784.7 345,797.2 346,805.1 347,803.9 348,800 349,772.2 350,807.4 351,821.3 352,818.4 353,793.5 354,780.6 355,790.2 356,793.6 357,796.5 358,787 359,793.7 360,785.8 361,783.7 362,806.4 363,807.2 364,798.4 365,791.5 366,791 367,783.1 368,788.5 369,761.3 370,632 371,471.8 372,640.5 373,755.7 374,782.6 375,772.7 376,784.1 377,788.5 378,795.1 379,783.6 380,754.5 380.5,748.8 381,754.4 382,775.7 383,794.6 384,792.9 385,788.4 386,770.9 387,766.8 388,792.2 389,811.8 390,798.8 391,779.5 392,783.3 393,786.7 394,806.7 395,801.2 396,794.9 397,798.1 398,788.4 399,797.2 400,795 401,788.1 402,787.7 403,796.5 404,817.7 405,807 406,804.7 407,795.4 408,802.6 409,804 410,790.3 411,790.4 412,785.3 413,757.3 413.7,743.9 414,746.7 415,775.9 416,800.3 417,810.5 418,804.4 419,794 420,812.2 421,813.8 422,804.7 423,804.1 424,806.6 425,792.1 426,813.5 427,805.8 428,807.6 429,796.6 430,783 431,770.6 432,792.4 433,800.2 434,807.4 435,805.6 436,788.5 437,802.5 438,803.5 439,801.8 440,812.7 441,792.1 442,801.2 443,811.5 444,806.6 445,795.3 446,787.4 447,789.9 448,803.2 449,800.5 450,779 451,786.6 452,786.7 453,796.3 454,788.4 455,787.1 456,789.8 457,798.6 458,787.1 459,785.7 460,787.9 461,789.2 462,783.6 463,772.5 464,778.6 465,778.7 466,779.6 467,736 468,697 469,734.9 470,774.5 471,785.6 472,796.4 473,784.4 474,770.8 475,776.5 476,777.2 477,785.7 478,787.5 479,764.9 480,764.8 481,774.8 482,775.9 483,780.3 484,775.2 485,769.4 486,766.5 487,784 488,787.4 489,784.1 490,788.3 491,786.7 492,789.9 493,799.4 494,788.2 495,766.6 496,769.9 497,790.2 498,789.5 499,786.6 500,792.1 501,793.4 502,789.7 503,791.5 504,796.4 505,777.7 506,792.9 507,807.2 508,801.4 509,788.9 510,789.9 511,806.6 512,811.9 513,802.1 514,794.1 515,788.4 516,783 517,796.9 518,804.2 519,799.7 520,789.6 521,798 522,799.7 523,777.8 524,760.9 525,777.9 526,800.4 527,824.2 528,824.4 529,809.9 530,814.2 531,811.6 532,822.6 533,827.9 534,820.3 535,815.5 536,832.4 537,843.6 538,827.3 539,819.2 540,819 541,820.3 542,830.2 543,834.3 544,832 545,829.2 546,831.9 547,845.2 548,849.8 549,844.2 550,826.2 551,835.2 552,841.9 553,853.9 554,853.1 555,846.7 556,840.4 557,850 558,850.4 559,851.7 560,837.1 561,833.5 562,842.8 563,860.6 564,855.5 565,860.4 566,840.7 567,829.9 568,834.7 569,846.9 570,845 571,862.8 572,852.4 573,843.2 574,842.1 575,854.9 576,870.8 577,848.3 578,831.7 579,834.3 580,847.7 581,847.6 582,822.5 583,797.2 584,822.8 585,841.4 586,863.1 587,844.3 588,836.9 589,850.7 590,838.9 591,817 592,764.5 592.7,741.1 593,746.1 594,797 595,831.1 596,855 597,865.8 598,871.8 599,861 600,848.8 601,842 602,851.2 603,856.1 604,854.8 605,847.4 606,835.7 607,846.6 608,854.2 609,851.2 610,847.8 611,843.5 612,843 613,850.1 614,858.9 615,855.2 616,844.4 617,842.6 618,841.3 619,844.8 620,832.7 621,797 622,735.9 623,694.5 624,737.1 625,799.3 626,830.6 627,827.4 628,839.4 629,848.6 630,860.3 631,857.5 632,842.6 633,851.5 634,850.1 635,850.8 636,855.1 637,855.3 638,847.9 639,848.5 640,855.2 641,845.1 642,850.7 643,838.5 644,841.8 645,849.3 646,862.2 647,853.4 648,855.6 649,845.2 650,852.4 651,851.6 652,859.4 653,851.9 654,844.8 655,851.2 656,855.9 657,853 658,858.1 659,850.7 660,831 661,849.9 662,864.2 663,852.5 664,845.5 665,834.4 666,832.7 667,843.9 668,849.5 669,839.9 670,843.1 671,835.6 672,848.6 673,863.5 674,852.8 675,837.1 676,842.6 677,844.9 678,848 679,862.1 680,852.3 681,841.5 682,855.4 683,851.3 684,865.6 685,855.1 686,840.3 687,829 688,845 689,852 690,870.6 691,855.9 692,854.2 693,858.6 694,849.3 695,850.8 696,855.3 697,849.9 698,849.2 699,853.5 700,858.8 701,857.1 702,848.9 703,847.6 704,856.6 705,854.2 706,847.3 707,836.5 708,850.2 709,860.1 710,866.6 711,862.5 712,853.7 713,849.2 714,834.3 715,846.2 716,847.7 717,854.2 718,858.6 719,842.1 720,839.2 721,834.8 722,847.4 723,833.2 724,831.3 725,843 726,843.5 727,856.2 728,832.1 729,846.9 730,856 731,865.5 732,850.8 733,855.7 734,846.4 735,850.2 736,841.3 737,841.9 738,840.4 739,833.3 740,824.1 741,819.4 742,825.8 743,839.2 744,853.4 745,841.6 746,840.4 747,855.6 748,853 749,860.5 750,849.2 751,837.3 752,837.5 753,844.1 754,847.5 755,849.8 756,843.6 757,832 758,829.7 759,811.9 759.7,805.9 760,807 761,820.4 762,828.8 763,831.1 764,834.3 765,845 766,840.5 767,840.6 768,852.1 769,846.3 770,854.2 771,858.8 772,848.9 773,834.8 774,833.1 775,837 776,838.4 777,846.8 778,853.5 779,845.3 780,841.8 781,837.4 782,844 783,851.2 784,847.1 785,839.3 786,836.8 787,841.7 788,855.4 789,870.4 790,870.9 791,856 792,852.6 793,838.7 794,858.5 795,870.6 796,857.5 797,852.7 798,846.9 799,838.1 800,847.9 801,855.7 802,867.2 803,867.1 804,852.1 805,844.8 806,845.4 807,851.5 808,858.4 809,855.4 810,846.9 811,852.3 812,850.4 813,851.3 814,848.1 815,838.4 816,841.2 817,831.8 818,852.5 819,864.4 820,853.7 821,846.8 822,841 823,830.1 824,847.1 825,850.3 826,838.2 827,830.6 828,848.8 829,852.8 830,834.7 831,843.3 832,842.8 833,854.7 834,854.8 835,837.8 836,841.9 837,840.3 838,850.2 839,846.9 840,836 841,836.1 842,833.4 843,809.6 844,795.9 845,809.6 846,821.1 847,835.9 848,840.7 849,850.2 850,841.5 851,842.8 852,837.5 853,843.4 854,846.9 855,837.3 856,829.8 857,835.2 858,836.1 859,845.5 860,831.3 861,812.7 862,802.3 863,814.1 864,839.6 865,837.6 866,839.3 867,848.4 868,858.3 869,847.6 870,841.6 871,847.1 872,850.2 873,858.9 874,856.4 875,846.8 876,836.7 877,843.2 878,849.1 879,838.6 880,831.8 881,830.8 882,823.4 883,834 884,843.4 885,843.2 886,846.1 887,859.7 888,860.8 889,857.3 890,847.9 891,852 892,853.3 893,862.1 894,869.6 895,863.6 896,857.2 897,856.5 898,852.4 899,853.9 900,865.8 901,858.6 902,861.4 903,869.6 904,880.9 905,865.8 906,863.3 907,857.3 908,865.2 909,869.6 910,856.7 911,858.8 912,856.9 913,871.9 914,862.7 915,856.4 916,864.3 917,867.4 918,865.6 919,855.2 920,853.2 921,854.1 922,866 923,867.1 924,860.8 925,852.1 926,841.8 927,840.1 928,850.7 929,860.8 930,871.6 931,866.6 932,866.8 933,848.8 934,849.7 935,854.8 936,855.6 937,863.3 938,864.8 939,850.2 940,851.9 941,859.8 942,856.1 943,864.6 944,854.6 945,845.2 946,855.9 947,859.7 948,852.1 949,849.5 950,845.5 951,844.5 952,851.1 953,860 954,860 955,849.9 956,835.9 957,839.2 958,848 959,859.1 960,862.4 961,861.6 962,851.2 963,845.3 964,850.2 965,867.7 966,864.6 967,865 968,857.6 969,850.5 970,859 971,865.1 972,871.2 973,858.9 974,842.5 975,848.2 976,855 977,867.5 978,855.8 979,845.2 980,847.6 981,867.5 982,873.9 983,862.9 984,856.9 985,850.6 986,855.3 987,864.4 988,870 989,861.6 990,853.9 991,856.1 992,856.6 993,869 994,859.8 995,865.1 996,857.9 997,854.2 998,850.9 999,868.3 1000,863.9 1001,855.1 1002,844.6 1003,862 1004,870.4 1005,870.4 1006,853.3 1007,861.7 1008,871.9 1009,868.6 1010,870.6 1011,856.7 1012,860.5 1013,861.4 1014,865.8 1015,867.5 1016,854.4 1017,842.8 1018,836.1 1018.8,834 1019,834.2 1020,839.6 1021,849.9 1022,858.8 1023,863.7 1024,869.8 1025,873.8 1026,871.3 1027,866.5 1028,853.1 1029,854.7 1030,870.1 1031,878.5 1032,860.6 1033,854.7 1034,868 1035,870.7 1036,865.5 1037,863.6 1038,863.8 1039,869.7 1040,879.4 1041,877.7 1042,876.8 1043,864.3 1044,860.2 1045,868.4 1046,864.2 1047,869.1 1048,866.9 1049,858.2 1050,855.9 1051,867.6 1052,859.4 1053,852.6 1054,861.2 1055,860.2 1056,873.6 1057,863.6 1058,863 1059,866.1 1060,870.7 1061,877.3 1062,880.7 1063,865.7 1064,858.1 1065,858.3 1066,864 1067,868.6 1068,860.7 1069,841.5 1070,848.8 1071,860.8 1072,874.3 1073,858.5 1074,861.8 1075,859 1076,863.3 1077,865.3 1078,872.7 1079,877.5 1080,866.1 1081,858.7 1082,863.1 1083,861.7 1084,876.2 1085,877.8 1086,881.9 1087,874.3 1088,861.8 1089,857.2 1090,864.7 1091,878.8 1092,883.5 1093,870.7 1094,864.9 1095,867.1 1096,867.5 1097,878 1098,872.8 1099,867.6 1100,862.8 1101,870 1102,877.1 1103,881.9 1104,870.1 1105,858.6 1106,859 1107,858.4 1108,863.3 1109,871.8 1110,867.1 1111,861.3 1112,849.3 1113,862.4 1114,876.3 1115,878.8 1116,875.2 1117,856.7 1118,851.4 1119,870.3 1120,866.9 1121,873 1122,863.8 1123,855.7 1124,855.9 1125,863 1126,874.4 1127,865 1128,863.5 1129,861.2 1130,862.1 1131,862.2 1132,863.5 1133,855.5 1134,857.8 1135,859.1 1136,867.7 1137,864 1138,852.8 1139,856.8 1140,861.4 1141,866.7 1142,866.5 1143,869.5 1144,858.3 1145,849.9 1146,865.7 1147,872.7 1148,869.6 1149,862.3 1150,856.3 1151,852.6 1152,854.2 1153,865.3 1154,855.8 1155,855.8 1156,836.6 1157,829.4 1158,813.8 1159,793.3 1159.7,787.8 1160,788.8 1161,804.5 1162,823 1163,840.7 1164,854.2 1165,866.2 1166,863.2 1167,858.3 1168,865.6 1169,873.8 1170,888.1 1171,878.9 1172,859.7 1173,861.8 1174,867.9 1175,877.8 1176,873.9 1177,862.7 1178,850.1 1179,857.6 1180,866 1181,867.4 1182,854.4 1183,859.9 1184,847.1 1185,861.6 1186,867.9 1187,868.9 1188,858.2 1189,864.3 1190,870.6 1191,875.6 1192,877.8 1193,864.6 1194,861.2 1195,866.3 1196,872.6 1197,882 1198,876.5 1199,864.4 1200,865.5 1201,865.5 1202,863.3 1203,875.1 1204,859.7 1205,853.8 1206,850.8 1207,857 1208,864.9 1209,866.1 1210,854.8 1211,855.5 1212,868.5 1213,870.6 1214,863.5 1215,856.2 1216,854.1 1217,858.8 1218,866.7 1219,876.1 1220,868.2 1221,857.8 1222,858.8 1223,866.8 1224,880.1 1225,871.8 1226,862.6 1227,859 1228,863.9 1229,861.5 1230,851.5 1231,860.4 1232,850.4 1233,855.3 1234,864.5 1235,863 1236,861.7 1237,849.6 1238,862.8 1239,871.5 1240,871.5 1241,870.2 1242,860.9"/>
<polyline fill="none" stroke="#000" stroke-width="2.3" stroke-linejoin="round" points="106,1375 107,1383.4 108,1392.9 109,1399.8 110,1413.9 111,1410.1 112,1426.9 113,1427 114,1421.2 115,1439.7 116,1484 117,1484.2 118,1457.8 119,1444.6 120,1409 121,1437.2 122,1461.2 123,1470 124,1456.5 125,1453.7 126,1440.9 127,1470.5 128,1467.5 129,1476.8 130,1470.6 131,1483.1 132,1462.7 133,1461.1 134,1467.7 135,1481.3 136,1479.7 137,1473.4 138,1478.2 139,1476.9 140,1491 141,1498.7 142,1508.5 143,1501.5 144,1520.5 145,1505 146,1498.8 147,1499.7 148,1514.6 149,1516.6 150,1517.6 151,1494.4 152,1479.7 153,1446 153.6,1435 154,1441.5 155,1484.5 156,1503.8 157,1502.1 158,1489.2 159,1500.1 160,1505.3 161,1525.2 162,1518.9 163,1528.2 164,1541.5 165,1522 166,1544.9 167,1552.5 168,1551.9 169,1568.1 170,1562.2 171,1544.4 172,1529.4 173,1532.4 174,1521.6 175,1540.1 176,1532.4 177,1549.7 178,1544.3 179,1518.1 180,1503.3 181,1531.5 182,1542.6 183,1543.4 184,1524.9 185,1526.3 186,1546 187,1542.7 188,1546.4 189,1568 190,1563.7 191,1553.5 192,1544.5 193,1555.6 194,1554.9 195,1572.9 196,1572.3 197,1574.8 198,1579.9 199,1583.3 200,1564.2 201,1570.2 202,1577.9 203,1591.5 204,1573.8 205,1566.8 206,1575.4 207,1586.5 208,1604.1 209,1599.3 210,1603 211,1592 212,1571.5 213,1569.4 214,1585.5 215,1597.2 216,1603.2 217,1603.9 218,1588.2 219,1583.4 220,1600.6 221,1608.7 222,1605.5 223,1599.6 224,1584.9 225,1586.9 226,1597.6 227,1609.6 228,1617.1 229,1615.5 230,1600.2 231,1593.3 232,1598.1 233,1595.1 234,1608.6 235,1604.4 236,1594.9 237,1591.8 238,1592 239,1602.8 240,1615.7 241,1637 242,1644.7 243,1632.3 244,1611.5 245,1612.6 246,1615.1 247,1643.1 248,1620.3 249,1595.2 250,1604.1 251,1614.2 252,1629.8 253,1630 254,1628.5 255,1618.1 256,1618.8 257,1603.2 258,1614.4 259,1627.9 260,1626.5 261,1619.7 262,1605.9 263,1618.6 264,1617.8 265,1614 266,1626.7 267,1613.5 268,1615.3 269,1619.9 270,1628.7 271,1627.9 272,1621.6 273,1612.3 274,1606.8 275,1604 276,1614.8 277,1618.8 278,1643.6 279,1628.7 280,1620.6 281,1604.7 282,1609.5 283,1620.3 284,1632.3 285,1651.3 286,1635.9 287,1619.7 288,1600.7 289,1623.8 290,1619.9 291,1636.5 292,1647 293,1646.1 294,1641.4 295,1639.4 296,1646.1 297,1635.6 298,1634.6 299,1630.8 300,1640.4 301,1636.7 302,1623.2 303,1635.8 304,1628.7 305,1642.1 306,1643.9 307,1616.2 308,1626.9 309,1636.3 310,1631 311,1644.6 312,1654.9 313,1655 314,1639.3 315,1642 316,1628.7 317,1635.5 318,1646.9 319,1654.4 320,1647.7 321,1646.8 322,1639.9 323,1636.9 324,1634.9 325,1637.5 326,1644 327,1648.9 328,1645.9 329,1645.7 330,1640.5 331,1639.2 332,1646.7 333,1656 334,1657.3 335,1656 336,1650.3 337,1645.9 338,1638 339,1651.5 340,1639 341,1628.9 342,1600.7 343,1553 344,1519.7 345,1555.5 346,1612.1 347,1643.7 348,1649.9 349,1641.9 350,1636 351,1637.5 352,1651.9 353,1668.6 354,1663.4 355,1667.4 356,1659.2 357,1647.4 358,1646.1 359,1646.1 360,1652.6 361,1651.9 362,1653.4 363,1649.2 364,1638.7 365,1651.3 366,1660.9 367,1672.1 368,1661.1 369,1651.1 370,1633.5 371,1631.2 372,1644 373,1638.9 374,1648.4 375,1657.7 376,1640.2 377,1643.2 378,1624.9 379,1583.8 380,1513.3 380.8,1483.4 381,1485.5 382,1539.5 383,1599.6 384,1641.2 385,1651.6 386,1658.1 387,1642.7 388,1643.7 389,1651.8 390,1662 391,1661.4 392,1653.4 393,1648.4 394,1649.3 395,1651.1 396,1655.5 397,1654.6 398,1652.3 399,1634.3 400,1628.1 401,1634.9 402,1639.6 403,1608 404,1535 405,1461 405.4,1451.8 406,1471.5 407,1554.2 408,1616.6 409,1638.2 410,1632.8 411,1638.4 412,1639.9 413,1634.7 414,1604.5 415,1583.8 416,1603.5 417,1624.3 418,1632.9 419,1651.1 420,1658.5 421,1663.8 422,1658.6 423,1654 424,1639.1 425,1645.9 426,1654.6 427,1655.7 428,1662.4 429,1654.8 430,1644.8 431,1645.1 432,1651.8 433,1659.7 434,1649.3 435,1647 436,1616.1 437,1574.4 438,1519.8 438.5,1510 439,1520 440,1577.4 441,1624.5 442,1650.2 443,1656.2 444,1646 445,1648.4 446,1647.8 447,1621.2 448,1598.5 448.3,1596.3 449,1602.8 450,1617.5 451,1629.9 452,1621.6 453,1575.6 454,1473.4 455,1331.4 456,1254.7 457,1330.7 458,1468.8 459,1577.9 460,1626.6 461,1630.6 462,1631.9 463,1649.5 464,1656.1 465,1654.5 466,1660.9 467,1647 468,1651 469,1660.6 470,1666.4 471,1674.8 472,1652.7 473,1655.1 474,1660.2 475,1655.6 476,1661.9 477,1661.4 478,1673 479,1663 480,1654.7 481,1648 482,1666.8 483,1678.1 484,1680.9 485,1669.5 486,1664.3 487,1668.3 488,1679.2 489,1671.8 490,1656.1 491,1652.8 492,1659.4 493,1662.3 494,1679.4 495,1675.1 496,1659.7 497,1653.2 498,1657.7 499,1666.6 500,1669.8 501,1675.4 502,1667.9 503,1670.5 504,1666.2 505,1659.7 506,1668.2 507,1664.5 508,1671.3 509,1684.5 510,1681.9 511,1666.4 512,1669.6 513,1663 514,1664.8 515,1668.4 516,1676.6 517,1675.1 518,1673.9 519,1671.9 520,1667.9 521,1676.6 522,1684.6 523,1675.1 524,1669.2 525,1676.4 526,1676.9 527,1690.9 528,1696.6 529,1686.2 530,1678.5 531,1677.2 532,1686.8 533,1694.2 534,1690 535,1680.2 536,1673.4 537,1679.8 538,1671.8 539,1662.3 540,1656.4 541,1662.4 542,1672.6 543,1682.2 544,1692.5 545,1695.4 546,1689.6 547,1686.4 548,1678.3 549,1676 550,1682.1 551,1677.7 552,1682.9 553,1687.9 554,1681.6 555,1676.8 556,1688 557,1689.7 558,1683.9 559,1664 560,1646.3 560.7,1640.5 561,1641.8 562,1659.1 563,1680.7 564,1699.2 565,1693.6 566,1679.1 567,1679.1 568,1697.2 569,1707.1 570,1702.3 571,1701.3 572,1698.8 573,1696.9 574,1685 575,1697.7 576,1702.5 577,1709.7 578,1714.4 579,1712.3 580,1696.9 581,1700.2 582,1702.9 583,1698.4 584,1707.3 585,1710.6 586,1701.8 587,1689.7 588,1691.4 589,1688.2 590,1696.7 591,1693.2 592,1683.5 593,1659 594,1618.3 595,1577.1 595.8,1564.1 596,1564.9 597,1590.9 598,1633.4 599,1674.3 600,1691.8 601,1696.9 602,1685.6 603,1678.7 604,1691.4 605,1685.8 606,1678.9 607,1657.7 608,1641.4 608.3,1640.3 609,1646.6 610,1669.3 611,1695.4 612,1691.1 613,1681.8 614,1685 615,1703.9 616,1710.3 617,1705.9 618,1687.6 619,1679.3 620,1688.9 621,1672 622,1633.4 623,1578 624,1527.4 624.7,1513.6 625,1516.2 626,1554.7 627,1614.9 628,1658.9 629,1679.3 630,1683.4 631,1697.3 632,1699.2 633,1705.6 634,1698.1 635,1693.7 636,1692.9 637,1691.1 638,1703.8 639,1701 640,1709.7 641,1702 642,1688.3 643,1677.4 644,1652.5 645,1634.6 645.4,1632.5 646,1638 647,1661.7 648,1677.7 649,1683.1 650,1695.9 651,1699.1 652,1710.4 653,1712.9 654,1712.6 655,1698.2 656,1696.8 657,1699.1 658,1698.6 659,1700.4 660,1705.2 661,1709.3 662,1712.8 663,1702.9 664,1700.2 665,1699.2 666,1708.1 667,1712.8 668,1713.6 669,1712.4 670,1709.4 671,1706.2 672,1696.9 673,1702.8 674,1713.5 675,1714 676,1712.7 677,1722.3 678,1711.2 679,1703.6 680,1699.2 681,1699.2 682,1700.3 683,1713.3 684,1713.2 685,1717.5 686,1712.9 687,1706.4 688,1711.7 689,1720.4 690,1715.3 691,1719.4 692,1722.3 693,1715.2 694,1717.7 695,1707 696,1714.1 697,1711 698,1715.2 699,1714.1 700,1717.3 701,1698.7 702,1706.8 703,1708.2 704,1707.6 705,1716.9 706,1711.9 707,1698.8 708,1690.9 709,1698.9 710,1712.7 711,1717.1 712,1713.6 713,1702.8 714,1696.3 715,1697.3 716,1706.1 717,1711.5 718,1720 719,1719.7 720,1716.1 721,1696.6 722,1695.8 723,1695.5 724,1700.8 725,1704.8 726,1715.1 727,1717.1 728,1709.3 729,1704.2 730,1697.4 731,1706 732,1712.3 733,1721 734,1718.6 735,1711.7 736,1704 737,1707.1 738,1718.5 739,1718.4 740,1721.9 741,1706.6 742,1696 743,1704.9 744,1713.5 745,1726.1 746,1714.3 747,1707.2 748,1704.6 749,1712.7 750,1715 751,1719.5 752,1721.2 753,1715 754,1710 755,1698.3 756,1703.9 757,1709.8 758,1721.1 759,1715.9 760,1713.9 761,1707.7 762,1711.9 763,1704.6 764,1714 765,1718.4 766,1703.9 767,1705.2 768,1706.1 769,1711.8 770,1721.6 771,1722.6 772,1715.6 773,1711.9 774,1702.6 775,1697.9 776,1713.6 777,1715.8 778,1726.6 779,1712.5 780,1707.1 781,1691.2 782,1711.2 783,1718 784,1711.9 785,1702.2 786,1696.6 787,1685.9 788,1677.5 788.7,1674.3 789,1675 790,1687.3 791,1704.3 792,1709 793,1713.2 794,1714.4 795,1721 796,1728.1 797,1722.1 798,1721.5 799,1711.9 800,1711.5 801,1709.9 802,1715.9 803,1710.8 804,1723.7 805,1716.7 806,1716.9 807,1711.6 808,1716 809,1723.8 810,1726.5 811,1723.7 812,1718.8 813,1714.8 814,1701.7 815,1707.4 816,1713.2 817,1710.7 818,1713.1 819,1707.4 820,1700.4 821,1702 822,1705.2 823,1708.2 824,1703.6 825,1696 825.9,1692.1 826,1692.1 827,1696.4 828,1701 829,1709.5 830,1715.4 831,1719.6 832,1721.6 833,1709.7 834,1704.3 835,1703.5 836,1708 837,1707.6 838,1708 839,1706.3 840,1696.9 841,1688.6 842,1677.6 843,1668.4 844,1664.3 845,1668.6 846,1677.8 847,1687.2 848,1693.8 849,1707.3 850,1721.2 851,1710.6 852,1709.2 853,1699.6 854,1702.4 855,1706.7 856,1708.4 857,1708 858,1713.2 859,1707.5 860,1710.2 861,1710.3 862,1707.2 863,1713.3 864,1718.6 865,1712.1 866,1706.1 867,1701.3 868,1700.8 869,1714.8 870,1721.9 871,1714.2 872,1705.6 873,1708.8 874,1710 875,1718.2 876,1713.3 877,1706.5 878,1698.7 879,1700 880,1703.1 881,1715.2 882,1717.9 883,1720.2 884,1708.8 885,1706.3 886,1707.8 887,1713.9 888,1716.2 889,1714.7 890,1710.3 891,1708.4 892,1701.9 893,1691.5 894,1699.6 895,1705.7 896,1717 897,1709.3 898,1705.8 899,1707.5 900,1702.6 901,1713.2 902,1721.1 903,1723.2 904,1709.8 905,1704.7 906,1702.9 907,1698.3 908,1714.9 909,1717.3 910,1725 911,1728.5 912,1714.5 913,1701.9 914,1704 915,1700.5 916,1692.4 917,1687.6 918,1692.9 919,1700.3 920,1707.7 921,1714.4 922,1718.7 923,1731.1 924,1733.8 925,1734.1 926,1728.6 927,1727.7 928,1719.1 929,1721.3 930,1724.3 931,1726.3 932,1735.6 933,1728.5 934,1720 935,1717.7 936,1721.6 937,1724.5 938,1723.9 939,1722.3 940,1729.5 941,1725.9 942,1719.7 943,1721.1 944,1714.8 945,1715 946,1724.8 947,1722.2 948,1724.1 949,1729 950,1725.7 951,1726.8 952,1721.7 953,1719.3 954,1722.3 955,1721.3 956,1719.3 957,1726.2 958,1723.5 959,1719 960,1721.6 961,1714 962,1718.6 963,1722.2 964,1727 965,1733.2 966,1734.6 967,1712.7 968,1712.9 969,1708 970,1708.9 971,1730.2 972,1723.6 973,1717 974,1721.1 975,1726 976,1729.5 977,1737 978,1738 979,1735.2 980,1726.6 981,1715.6 982,1721.9 983,1728.7 984,1724.8 985,1724.4 986,1719.7 987,1718.9 988,1720.8 989,1720.4 990,1719.5 991,1731.8 992,1727.8 993,1733.6 994,1724.9 995,1709.2 996,1698.8 997,1712.3 998,1719.8 999,1724.3 1000,1716.9 1001,1716.4 1002,1706.4 1003,1709.2 1004,1714.8 1005,1710.5 1006,1712.4 1007,1704.9 1008,1697.9 1009,1689.6 1010,1686.8 1011,1689.2 1012,1693.3 1013,1703.3 1014,1708 1015,1720.8 1016,1716.1 1017,1719.2 1018,1714.3 1019,1713 1020,1721.1 1021,1722 1022,1726.5 1023,1722.2 1024,1722.7 1025,1712 1026,1727.2 1027,1726.1 1028,1726.1 1029,1719.6 1030,1718.4 1031,1722.8 1032,1727.5 1033,1731 1034,1733 1035,1735.5 1036,1731.8 1037,1721.5 1038,1723 1039,1731 1040,1731.4 1041,1729.4 1042,1734.1 1043,1728.1 1044,1728.4 1045,1724 1046,1727.6 1047,1728.7 1048,1729.3 1049,1730.8 1050,1729.1 1051,1727.7 1052,1731.9 1053,1730.5 1054,1745 1055,1732.3 1056,1726.5 1057,1729.6 1058,1721.3 1059,1717.1 1060,1723.5 1061,1723.5 1062,1727 1063,1723.3 1064,1722.9 1065,1723.5 1066,1733.1 1067,1734.3 1068,1735 1069,1722.7 1070,1728.4 1071,1727 1072,1730.3 1073,1731.9 1074,1733.3 1075,1728.7 1076,1730.6 1077,1721.8 1078,1718.4 1079,1716.9 1080,1719.9 1081,1730 1082,1728.6 1083,1736.2 1084,1728.9 1085,1721.8 1086,1716.7 1087,1718.1 1088,1711.9 1089,1723.7 1090,1738.1 1091,1735.2 1092,1723 1093,1722.3 1094,1726.2 1095,1733.9 1096,1743.9 1097,1733.8 1098,1724.1 1099,1726.3 1100,1733.2 1101,1737.5 1102,1734.5 1103,1731 1104,1731.1 1105,1721.5 1106,1724.9 1107,1728.9 1108,1732.1 1109,1734.1 1110,1729.8 1111,1724.5 1112,1709 1113,1718.1 1114,1721 1115,1722.9 1116,1727 1117,1722.7 1118,1715.7 1119,1719.6 1120,1717.3 1121,1716.3 1122,1722.9 1123,1724.5 1124,1724.5 1125,1720.9 1126,1717.5 1127,1708.2 1128,1710.8 1129,1714.8 1130,1730.9 1131,1733.7 1132,1722.5 1133,1726.2 1134,1720.6 1135,1709 1136,1711.4 1137,1721.8 1138,1726.9 1139,1718.9 1140,1716.4 1141,1723.8 1142,1721 1143,1716.3 1144,1703.1 1145,1693.6 1146,1674.7 1147,1660.9 1148,1649.3 1149,1641.2 1149.5,1640 1150,1641.2 1151,1650.4 1152,1663.2 1153,1673.2 1154,1688.7 1155,1703.7 1156,1719.5 1157,1723.2 1158,1724.1 1159,1719.6 1160,1707.6 1161,1712.4 1162,1723 1163,1719.6 1164,1734.7 1165,1728.4 1166,1724.8 1167,1719.7 1168,1721.4 1169,1722.1 1170,1726 1171,1726.4 1172,1722.4 1173,1714.6 1174,1712.9 1175,1724.1 1176,1729.5 1177,1733 1178,1742.5 1179,1727.9 1180,1730.5 1181,1714.6 1182,1713 1183,1723.3 1184,1732.4 1185,1739.7 1186,1731.8 1187,1722.8 1188,1713 1189,1723.9 1190,1730.1 1191,1732.1 1192,1736.6 1193,1734.6 1194,1726.3 1195,1720.8 1196,1720.5 1197,1721.8 1198,1724.7 1199,1723.2 1200,1730.4 1201,1720.1 1202,1721.6 1203,1717 1204,1723.1 1205,1724.3 1206,1730.8 1207,1727.2 1208,1725.3 1209,1714 1210,1718.7 1211,1710.7 1212,1716.5 1213,1718.8 1214,1725.8 1215,1725.9 1216,1718.3 1217,1712.9 1218,1702.5 1219,1702.9 1220,1698.2 1221,1702.3 1222,1704 1223,1712.2 1224,1717.1 1225,1711.7 1226,1715.4 1227,1712.1 1228,1711"/>
<polyline fill="none" stroke="#000" stroke-width="2.3" stroke-linejoin="round" points="106,1605 107,1613 108,1619.2 109,1632.6 110,1641.7 111,1663 112,1661.7 113,1672.8 114,1675.1 115,1689.7 116,1691.1 117,1714.9 118,1725.3 119,1730 120,1702.8 121,1697.5 122,1700 123,1709.6 124,1718.1 125,1736.7 126,1728.2 127,1735.8 128,1721 129,1721.9 130,1719.6 131,1724.9 132,1729.4 133,1733.6 134,1738.7 135,1745.8 136,1747.7 137,1729.7 138,1750.1 139,1737.2 140,1741.6 141,1761.8 142,1771 143,1775.4 144,1761.3 145,1759.6 146,1759.3 147,1749.8 148,1732.4 149,1755.1 150,1750.6 151,1710.3 152,1683 153,1711.8 154,1741.5 155,1752.9 156,1761.6 157,1752.4 158,1761.7 159,1756.5 160,1764.8 161,1780.9 162,1777.9 163,1798 164,1788.5 165,1768.9 166,1764.7 167,1791.1 168,1795.9 169,1807.9 170,1778.8 171,1760.4 172,1768.4 173,1803.4 174,1814.7 175,1807.9 176,1797.6 177,1790.8 178,1786.9 179,1798.9 180,1817.4 181,1810.8 182,1818 183,1803.5 184,1792.2 185,1795.9 186,1798.3 187,1816.7 188,1820.3 189,1830.4 190,1813.3 191,1800.7 192,1793.4 193,1786.5 194,1787.1 195,1803.7 196,1823 197,1831.2 198,1800.3 199,1796.3 200,1782.3 201,1784.6 202,1797.2 203,1831.2 204,1836.7 205,1815.1 206,1802.5 207,1791.1 208,1817.6 209,1818.8 210,1803.1 211,1797.3 212,1796.8 213,1813.4 214,1827.1 215,1823.7 216,1823.4 217,1828.2 218,1805.4 219,1817.9 220,1841.7 221,1863.7 222,1843.8 223,1838.1 224,1810.8 225,1804 226,1825.1 227,1820.3 228,1841.9 229,1842.3 230,1833.6 231,1830.1 232,1830.9 233,1841.7 234,1858.2 235,1848.4 236,1849.8 237,1836.6 238,1829.1 239,1834.2 240,1850 241,1845.7 242,1831.4 243,1830.5 244,1816.4 245,1827.4 246,1831.5 247,1850.3 248,1854 249,1844.6 250,1826.3 251,1825.8 252,1832.5 253,1837.8 254,1843.8 255,1852.5 256,1846.6 257,1842.2 258,1839.9 259,1851.1 260,1851.9 261,1850.8 262,1858.9 263,1871.6 264,1869.2 265,1863.8 266,1853.6 267,1841.7 268,1849.3 269,1855.6 270,1844.7 271,1834.8 272,1839.2 273,1834 274,1837.8 275,1854.8 276,1851.1 277,1858.7 278,1857.5 279,1846.2 280,1847.9 281,1848.6 282,1836.1 283,1844.5 284,1836.1 285,1848.8 286,1862.2 287,1850.5 288,1845.8 289,1851.8 290,1852.1 291,1865 292,1861.2 293,1853.9 294,1848 295,1829 296,1836.4 297,1843.9 298,1843.2 299,1847.2 300,1852.4 301,1851.2 302,1853 303,1841.7 304,1842.6 305,1843.5 306,1846.8 307,1832.9 308,1841.9 309,1852.2 310,1872.4 311,1883 312,1871 313,1854.1 314,1851.7 315,1856.3 316,1862.1 317,1852.1 318,1843.9 319,1847.8 320,1862.5 321,1870 322,1870.4 323,1860.8 324,1851.3 325,1858 326,1862.6 327,1863.5 328,1876.9 329,1865.7 330,1858.2 331,1848 332,1858.5 333,1868.8 334,1864.3 335,1879.7 336,1880.9 337,1871.2 338,1850.1 339,1851 340,1841.5 341,1825.4 342,1788.5 343,1761.8 344,1788.7 345,1826.5 346,1845.8 347,1857.2 348,1865.1 349,1868.4 350,1875.8 351,1886.2 352,1861.8 353,1868.6 354,1863 355,1877.4 356,1883.6 357,1875.5 358,1870.5 359,1860.3 360,1862.2 361,1861.1 362,1863.7 363,1875.4 364,1886.2 365,1879.2 366,1879.7 367,1858.1 368,1861.3 369,1863.4 370,1876 371,1875.6 372,1878.6 373,1862.6 374,1850.4 375,1841.9 376,1815.6 377,1752.5 378,1714.6 379,1752.7 380,1809.3 381,1842.8 382,1853.6 383,1863.7 384,1871.7 385,1871.6 386,1849.2 387,1842.1 388,1849.7 389,1860.7 390,1865.2 391,1877.6 392,1860.4 393,1850.7 394,1829.4 395,1850.7 396,1852.7 397,1874.2 398,1869.9 399,1859.3 400,1851.7 401,1829.8 402,1778.9 403,1728.7 403.4,1722.1 404,1735.8 405,1789.8 406,1836.9 407,1850.9 408,1853.6 409,1858.3 410,1856.2 411,1848.8 412,1830.6 413,1815 414,1831.7 415,1850.1 416,1843.5 417,1864 418,1867.8 419,1881.6 420,1879.2 421,1868.4 422,1864.8 423,1863.1 424,1863.8 425,1871.1 426,1871.7 427,1870.6 428,1879.1 429,1868.7 430,1858.7 431,1866.4 432,1857.6 433,1857.4 434,1860.2 435,1855.8 436,1815.8 437,1780.5 437.4,1776.2 438,1785 439,1821 440,1854.5 441,1861.3 442,1872.4 443,1864.8 444,1861.7 445,1859.5 446,1859.9 447,1846.4 448,1831.2 448.3,1829.6 449,1833.8 450,1844.4 451,1840.4 452,1828.8 453,1791.5 454,1697.3 455,1570.3 456,1499.2 457,1571.2 458,1696.8 459,1789.1 460,1832 461,1852.9 462,1859.5 463,1868 464,1867.3 465,1861.5 466,1860.9 467,1860.3 468,1867.1 469,1873.1 470,1877.4 471,1888.7 472,1886.5 473,1878.5 474,1881.1 475,1885.7 476,1884.6 477,1898.7 478,1902.9 479,1897.3 480,1888.5 481,1887.6 482,1880.2 483,1882.6 484,1877.5 485,1873 486,1869.9 487,1867.7 488,1863.9 489,1875.7 490,1882.7 491,1886.4 492,1890.4 493,1889 494,1882.1 495,1875.2 496,1880.7 497,1885 498,1894.3 499,1884.4 500,1880 501,1882.7 502,1891.3 503,1887.1 504,1890.1 505,1895.2 506,1885.6 507,1880.1 508,1879.9 509,1891.6 510,1891 511,1893.2 512,1895.2 513,1897.7 514,1893.5 515,1887.8 516,1891.2 517,1909.6 518,1898 519,1900.1 520,1887.8 521,1886.7 522,1891.9 523,1899.5 524,1907.5 525,1909.4 526,1909.7 527,1896.9 528,1890.4 529,1890.5 530,1889.3 531,1899.1 532,1907.7 533,1904.1 534,1906.5 535,1899 536,1894.6 537,1881.2 538,1862.6 539,1844.5 539.5,1841.1 540,1844.7 541,1865 542,1880.4 543,1884.4 544,1881.2 545,1888.7 546,1902.4 547,1901.9 548,1895.1 549,1891 550,1876.2 551,1886.7 552,1890.8 553,1894 554,1898.8 555,1894.6 556,1883.5 557,1875 557.6,1873.1 558,1874.2 559,1884.9 560,1896.3 561,1895.9 562,1889.1 563,1892.9 564,1903.9 565,1900.5 566,1920.1 567,1903.9 568,1907.2 569,1901.6 570,1885.9 571,1883.3 572,1896.3 573,1903.4 574,1915.1 575,1908.5 576,1903.1 577,1895.3 578,1895.1 579,1887.6 580,1895.8 581,1904.5 582,1921.3 583,1897.4 584,1893.6 585,1892.3 586,1883.5 587,1879.2 588,1888.5 589,1895.5 590,1894.8 591,1875.2 592,1844.3 593,1805 594,1770 594.6,1761.9 595,1765.5 596,1797.9 597,1836.1 598,1863.6 599,1877.7 600,1886.5 601,1900.9 602,1895.3 603,1893.9 604,1882.4 605,1874 606,1860.5 606.8,1854.2 607,1854.7 608,1868.5 609,1885.1 610,1893.1 611,1891.9 612,1882.9 613,1894.1 614,1909.7 615,1914.2 616,1899.8 617,1890.9 618,1879.3 619,1878.2 620,1868.9 621,1839.7 622,1772.7 623,1677.8 624,1585 624.7,1559.4 625,1564.3 626,1636.3 627,1738 628,1815.4 629,1861.4 630,1891.1 631,1888.5 632,1889.3 633,1889 634,1882 635,1883.5 636,1886.3 637,1902 638,1898.9 639,1898.6 640,1895.4 641,1881 642,1869.6 643,1859.5 643.4,1858.7 644,1862 645,1874.2 646,1892.6 647,1905.6 648,1906.3 649,1902.4 650,1900.3 651,1893.1 652,1897.8 653,1912.6 654,1919.2 655,1914.2 656,1909.1 657,1908 658,1908.7 659,1900.5 660,1901.8 661,1909 662,1906.9 663,1912.5 664,1905 665,1896.9 666,1907.4 667,1910.6 668,1925 669,1924.4 670,1911.3 671,1916.1 672,1911.9 673,1912.2 674,1912.2 675,1916.1 676,1920 677,1922.1 678,1912.9 679,1911.7 680,1914.3 681,1908 682,1923.4 683,1913.6 684,1911.8 685,1910.7 686,1909.4 687,1912.1 688,1920.4 689,1919.3 690,1922.9 691,1911.8 692,1910.4 693,1897.2 694,1904.8 695,1928.2 696,1922.4 697,1919.5 698,1914.8 699,1908.6 700,1902.6 701,1912.9 702,1922.1 703,1913.5 704,1903.9 705,1907.8 706,1912.3 707,1920.9 708,1916.2 709,1911.4 710,1904.2 711,1896.1 712,1909.5 713,1914.5 714,1921.6 715,1925.1 716,1913 717,1911 718,1900.8 719,1911 720,1915.8 721,1911.5 722,1915.9 723,1912 724,1908.6 725,1907.4 726,1915.2 727,1919.5 728,1911.7 729,1904.4 730,1902.7 731,1910.9 732,1925.9 733,1929.3 734,1935.2 735,1919.2 736,1906.4 737,1904 738,1910.7 739,1915.4 740,1916.8 741,1907.5 742,1910.9 743,1906.9 744,1904.9 745,1913.2 746,1911.6 747,1918.5 748,1907.6 749,1911.2 750,1905 751,1896.7 752,1903.1 753,1905.8 754,1911.3 755,1909.8 756,1906.7 757,1910.9 758,1910 759,1913.1 760,1917.5 761,1921.4 762,1922.6 763,1915.9 764,1908.5 765,1906.5 766,1897.8 767,1903.8 768,1907.8 769,1917.9 770,1909.1 771,1902.6 772,1897.5 773,1898.3 774,1898.9 775,1909.6 776,1906 777,1912.6 778,1909.1 779,1904.7 780,1907.4 781,1907.8 782,1911 783,1910.3 784,1910.1 785,1905.7 786,1898.1 787,1901.3 788,1897.5 789,1908.4 790,1923.7 791,1907.2 792,1907.5 793,1901.8 794,1906 795,1911.1 796,1904.7 797,1907.3 798,1903.7 799,1905.8 800,1908.2 801,1902.8 802,1901.2 803,1910 804,1918.9 805,1905.4 806,1899.7 807,1907.3 808,1909.1 809,1915.1 810,1906.8 811,1902.7 812,1908.3 813,1911.8 814,1918.1 815,1920.4 816,1920.2 817,1913.2 818,1908 819,1905.6 820,1902.2 821,1906.7 822,1916.7 823,1917.9 824,1918.8 825,1909.5 826,1906.8 827,1911.5 828,1917.9 829,1913.4 830,1911.5 831,1910.9 832,1907.8 833,1901.4 834,1900.5 835,1914.1 836,1908.2 837,1903.1 838,1891.1 839,1881.9 840,1869.3 841,1860 841.8,1856.5 842,1856.7 843,1862.8 844,1872.2 845,1881.2 846,1889.2 847,1902.1 848,1911.4 849,1916.3 850,1915.6 851,1907.4 852,1898.5 853,1895.6 854,1908.1 855,1909.6 856,1918.3 857,1920.3 858,1904.1 859,1896.3 860,1897.2 861,1898.3 862,1892 863,1889.4 864,1891.8 865,1889.8 866,1899.7 867,1903.1 868,1908.7 869,1914.6 870,1913 871,1909.6 872,1894.7 873,1897.5 874,1895.1 875,1897.7 876,1905.2 877,1913.3 878,1908.6 879,1896.3 880,1897 881,1912.5 882,1916.9 883,1918.8 884,1919 885,1915.1 886,1910.2 887,1899.9 888,1908.6 889,1919.5 890,1918.2 891,1916.3 892,1906.4 893,1897.7 894,1908.9 895,1917.9 896,1921 897,1926.6 898,1925.7 899,1914.5 900,1903.6 901,1912.2 902,1919.5 903,1922.2 904,1915.9 905,1913.1 906,1904.1 907,1906.2 908,1903.1 909,1919.8 910,1921.9 911,1917.4 912,1911 913,1908.5 914,1904.8 915,1920.3 916,1927.1 917,1924.9 918,1917.3 919,1917 920,1919.9 921,1915.9 922,1917.3 923,1906.5 924,1901.4 925,1916.5 926,1925.7 927,1928.6 928,1916.8 929,1908.7 930,1917.6 931,1922.7 932,1923.7 933,1930.6 934,1925.1 935,1930.1 936,1918.3 937,1917.4 938,1918.8 939,1921.7 940,1922.5 941,1927.9 942,1916.5 943,1908.8 944,1913.4 945,1923.1 946,1927.2 947,1928.1 948,1924.8 949,1916.8 950,1907 951,1916.1 952,1924.8 953,1934 954,1937.6 955,1935.1 956,1921.2 957,1923.5 958,1918.4 959,1924.4 960,1923 961,1922.1 962,1930.7 963,1923.8 964,1927.3 965,1925.2 966,1924.4 967,1925.6 968,1926 969,1923.6 970,1918.7 971,1916.4 972,1901.5 973,1910.6 974,1919.6 975,1928.3 976,1933.6 977,1937.6 978,1932.3 979,1920.2 980,1919.5 981,1909.5 982,1921.8 983,1923.9 984,1926 985,1921.7 986,1915.4 987,1912 988,1912.1 989,1919.9 990,1917.8 991,1919.5 992,1916.7 993,1910.5 994,1920.5 995,1922.1 996,1930 997,1934.7 998,1926.3 999,1924 1000,1919.7 1001,1906.1 1002,1907.5 1003,1906.4 1004,1914.4 1005,1909.1 1006,1919.1 1007,1910.7 1008,1905.4 1009,1900.3 1010,1894.2 1011,1891.4 1012,1884.7 1013,1880.2 1013.3,1880 1014,1881 1015,1886.9 1016,1896.7 1017,1905.6 1018,1919.2 1019,1917.4 1020,1906.9 1021,1904.4 1022,1913 1023,1922.1 1024,1928.6 1025,1921.7 1026,1912.3 1027,1908.2 1028,1914.7 1029,1922.6 1030,1912.2 1031,1906.9 1032,1901.4 1033,1911.8 1034,1912.3 1035,1919.6 1036,1920.1 1037,1916.2 1038,1914.8 1039,1917 1040,1903.9 1041,1917.9 1042,1921.8 1043,1923.9 1044,1921 1045,1915.1 1046,1905.7 1047,1908.7 1048,1916.4 1049,1921.1 1050,1930 1051,1920.9 1052,1914 1053,1912.7 1054,1910.8 1055,1907.4 1056,1914 1057,1920.8 1058,1921.6 1059,1920.2 1060,1914.8 1061,1914.3 1062,1921.8 1063,1929.2 1064,1933.1 1065,1929.4 1066,1915.3 1067,1914.1 1068,1909.3 1069,1909.8 1070,1913 1071,1918.2 1072,1923.2 1073,1928.2 1074,1924.3 1075,1914.8 1076,1910.8 1077,1916 1078,1919.2 1079,1919.4 1080,1925.3 1081,1915.7 1082,1918.6 1083,1909.6 1084,1910.5 1085,1902.1 1086,1921.1 1087,1922.2 1088,1918.8 1089,1915.2 1090,1906.9 1091,1917.7 1092,1919.3 1093,1918.5 1094,1924.8 1095,1911.6 1096,1906.5 1097,1917.5 1098,1923.7 1099,1923.2 1100,1928.1 1101,1920.8 1102,1920 1103,1911.3 1104,1916.7 1105,1909.3 1106,1917.9 1107,1918 1108,1911.1 1109,1901.7 1110,1912.8 1111,1913.3 1112,1920.1 1113,1926.9 1114,1922.9 1115,1906.1 1116,1902.2 1117,1917.6 1118,1916.3 1119,1920.7 1120,1922.9 1121,1912.2 1122,1906.8 1123,1897.1 1124,1908.6 1125,1916.2 1126,1912.2 1127,1909.5 1128,1906 1129,1919.8 1130,1919.5 1131,1930.4 1132,1920.7 1133,1918.3 1134,1907.7 1135,1915.8 1136,1920.6 1137,1919.1 1138,1912.4 1139,1900.5 1140,1897.5 1141,1893.1 1142,1899.5 1143,1896.9 1144,1885.9 1145,1870.5 1146,1856.6 1147,1842.2 1148,1832 1148.8,1829 1149,1829.2 1150,1836.5 1151,1849.7 1152,1863.7 1153,1875.7 1154,1886.3 1155,1899.7 1156,1913.2 1157,1920.1 1158,1914.5 1159,1913.5 1160,1907.9 1161,1909.9 1162,1920.1 1163,1915.9 1164,1921.1 1165,1918.9 1166,1915.9 1167,1912.2 1168,1916.4 1169,1920.8 1170,1920.5 1171,1920.7 1172,1917.6 1173,1915.5 1174,1908.2 1175,1907.7 1176,1915.7 1177,1921 1178,1915.2 1179,1899.5 1180,1896.2 1181,1899.8 1182,1907.6 1183,1910.2 1184,1911.7 1185,1911.1 1186,1904.3 1187,1913.3 1188,1918.1 1189,1914.2 1190,1926.2 1191,1922.1 1192,1912.3 1193,1914.7 1194,1912.6 1195,1915.8 1196,1916.2 1197,1924.8 1198,1925.2 1199,1919.7 1200,1908.6 1201,1916.2 1202,1914.3 1203,1917.1 1204,1926 1205,1929.4 1206,1925.3 1207,1905.9 1208,1915.4 1209,1899 1210,1907 1211,1906.7 1212,1914.6 1213,1913.3 1214,1909.1 1215,1902.7 1216,1898.3 1217,1908.4 1218,1906.3 1219,1903.2 1220,1901.3 1221,1890.5 1222,1891.4 1223,1891.8 1224,1898.4 1225,1907.6"/>
<polyline fill="none" stroke="#000" stroke-width="2.3" stroke-linejoin="round" points="106,1870 107,1885.3 108,1896.2 109,1893.6 110,1902.8 111,1904.8 112,1909.5 113,1936.9 114,1914.8 115,1911.3 116,1919.5 117,1907.7 118,1921.3 119,1920.4 120,1936.8 121,1946.9 122,1948.4 123,1927.5 124,1915.8 125,1923.1 126,1950.5 127,1958.5 128,1940.4 129,1933.9 130,1943.1 131,1944.5 132,1973.8 133,1976 134,1987 135,1970.6 136,1954.7 137,1950 138,1954.1 139,1973.1 140,1987.3 141,2000.7 142,1986.6 143,1965.3 144,1974.2 145,1964.6 146,1977.9 147,1984.5 148,1983.5 149,1990.4 150,1996.5 151,1983.9 152,1978.3 153,1977.8 154,1985.3 155,1994.7 156,1980.3 157,1968.7 158,1981.9 159,1995.6 160,2004.8 161,1993.9 162,1992.1 163,1978.1 164,1975.6 165,1976.8 166,2012.7 167,2022.3 168,2006.4 169,1983.4 170,1966.6 171,1996 172,2013.2 173,2028.2 174,2006.5 175,1999 176,2000.3 177,2012.8 178,2026.5 179,2022.6 180,2010.4 181,2002 182,2007 183,2024.2 184,2050.7 185,2025.5 186,2022.3 187,2006.3 188,2000.3 189,1999.9 190,2026.5 191,2028.3 192,2022.9 193,2027.9 194,2020.7 195,2016.6 196,2031.7 197,2034.8 198,2024.4 199,2018.3 200,2010.5 201,2022.9 202,2027 203,2041.4 204,2028.8 205,2024.3 206,2028.1 207,2034.2 208,2044.2 209,2047.3 210,2054.9 211,2030.4 212,2036.5 213,2028.6 214,2029.4 215,2053.9 216,2057.1 217,2063.5 218,2052.4 219,2040.8 220,2032.1 221,2036.8 222,2043.2 223,2049.6 224,2059 225,2062 226,2047.5 227,2039.6 228,2064.1 229,2063.7 230,2075 231,2062.6 232,2051.4 233,2051 234,2045.6 235,2045.1 236,2051.9 237,2064.4 238,2062.4 239,2052.2 240,2053.3 241,2043.5 242,2038.1 243,2047.8 244,2052.6 245,2038.9 246,2022.5 247,2034.1 248,2037.2 249,2055.7 250,2064.1 251,2050.4 252,2042.3 253,2028.8 254,2022.4 255,2028.5 256,2043.5 257,2047.6 258,2048.2 259,2050.1 260,2043 261,2047.7 262,2039.9 263,2061.8 264,2075.6 265,2065.8 266,2057.5 267,2040.2 268,2038.4 269,2055.7 270,2062.7 271,2054.1 272,2058.1 273,2056.2 274,2048.9 275,2053.6 276,2056.4 277,2067.1 278,2058.2 279,2063.6 280,2048.4 281,2052.4 282,2066.2 283,2078.2 284,2065.8 285,2054.7 286,2062.7 287,2075.8 288,2085.3 289,2081.3 290,2080.7 291,2065.6 292,2069.6 293,2074.8 294,2082.3 295,2089.9 296,2081.3 297,2075.4 298,2062.2 299,2066.4 300,2085.7 301,2074.1 302,2063.5 303,2054.3 304,2048.9 305,2070.6 306,2081.8 307,2084.4 308,2084.1 309,2070.9 310,2068.7 311,2065.7 312,2058.4 313,2058.1 314,2058.9 315,2066.9 316,2069.9 317,2066.1 318,2067.3 319,2072 320,2069.6 321,2066.4 322,2080.6 323,2077.8 324,2072.2 325,2082.1 326,2080 327,2071.5 328,2065.6 329,2070.3 330,2080.1 331,2080.1 332,2090.5 333,2079.5 334,2061.5 335,2062.8 336,2057.6 337,2068 338,2071.1 339,2081.6 340,2085.1 341,2078 342,2080.6 343,2071.9 344,2071.1 345,2079.7 346,2084.4 347,2088 348,2087.2 349,2074.1 350,2064.6 351,2075.7 352,2079.5 353,2096.7 354,2090.8 355,2091.9 356,2087.1 357,2090.7 358,2101.8 359,2100.4 360,2106.6 361,2099 362,2082.4 363,2080.2 364,2095.2 365,2098.9 366,2101.2 367,2081.8 368,2064.2 369,2080.6 370,2083.2 371,2090.3 372,2094 373,2093 374,2082.6 375,2069.9 376,2067.6 377,2059.8 378,2032.7 379,1992.3 379.8,1974.6 380,1975.8 381,2008.7 382,2044.5 383,2065.8 384,2076.2 385,2084.9 386,2096.3 387,2080.3 388,2076 389,2067 390,2065 391,2069.3 392,2073.3 393,2077.2 394,2089.7 395,2086 396,2072.4 397,2074.7 398,2056.8 399,2063 400,2067.4 401,2083.9 402,2086.6 403,2091.6 404,2071.3 405,2079.4 406,2071.3 407,2090.6 408,2101.7 409,2090.7 410,2095.9 411,2082.4 412,2094.3 413,2095.8 414,2111.6 415,2114.7 416,2103.2 417,2090.1 418,2077.5 419,2087.4 420,2090.9 421,2094.5 422,2081.1 423,2090.2 424,2085.8 425,2097.8 426,2096.2 427,2114 428,2109.6 429,2092.7 430,2090.2 431,2099.7 432,2095.2 433,2104.5 434,2112.7 435,2101.3 436,2096.3 437,2089.9 438,2096.6 439,2104.3 440,2107.4 441,2103.8 442,2105.5 443,2104.2 444,2097.6 445,2083.4 446,2073.7 446.4,2072.6 447,2075.7 448,2088.6 449,2101 450,2111.8 451,2111.7 452,2111.4 453,2103.3 454,2094 455,2093.1 456,2097 457,2101.3 458,2113.6 459,2104.7 460,2092.6 461,2095.6 462,2098 463,2114 464,2125.7 465,2122.8 466,2112 467,2109.8 468,2102.1 469,2105.1 470,2110.5 471,2109.3 472,2119.2 473,2114.6 474,2108.2 475,2102.5 476,2111.7 477,2120.2 478,2127.6 479,2114.8 480,2108.3 481,2104.4 482,2106.9 483,2106.3 484,2117.3 485,2122.3 486,2116.1 487,2110 488,2105.2 489,2102.4 490,2097.1 491,2108 492,2118.7 493,2117.9 494,2126.5 495,2112.7 496,2119.9 497,2119.1 498,2112.1 499,2113.5 500,2111.4 501,2114.8 502,2117.5 503,2121.8 504,2117.7 505,2122.7 506,2119.5 507,2125 508,2125.6 509,2120.9 510,2113.6 511,2112.6 512,2095.2 513,2114.6 514,2113.2 515,2125.5 516,2128.5 517,2113.5 518,2112.4 519,2117.1 520,2109.2 521,2115.8 522,2117.6 523,2120.6 524,2112.1 525,2108.8 526,2105.5 527,2115 528,2117.2 529,2131.2 530,2117.9 531,2118.1 532,2106.2 533,2110.8 534,2112.8 535,2119.1 536,2115.9 537,2111 538,2098.1 539,2075.8 540,2056.1 540.4,2053.4 541,2059.1 542,2080.2 543,2099.8 544,2109.6 545,2112 546,2115.1 547,2114.6 548,2114.5 549,2118.3 550,2105.5 551,2100.7 552,2108 553,2100.4 554,2123.3 555,2123.4 556,2123.8 557,2115.8 558,2105.5 559,2100.2 560,2108.7 561,2103.3 562,2123.2 563,2108.1 564,2104.8 565,2098.4 566,2091.4 567,2101.3 568,2109.3 569,2116.9 570,2119.9 571,2114.7 572,2106.3 573,2110.1 574,2104.4 575,2107.3 576,2119.2 577,2126.7 578,2116.4 579,2110.1 580,2094.7 581,2094.3 582,2103.6 583,2108.2 584,2113.7 585,2102 586,2100.2 587,2098.7 588,2096.4 589,2099.2 590,2105.9 591,2086.3 592,2051 593,1979.5 594,1891 595,1812 595.5,1799.2 596,1812 597,1893.7 598,1987.1 599,2048.7 600,2074.6 601,2092.1 602,2102.4 603,2111.1 604,2120.8 605,2117.5 606,2104.4 607,2103.8 608,2105.8 609,2114.8 610,2116.4 611,2121.7 612,2124.7 613,2117.4 614,2113.1 615,2114.2 616,2103.9 617,2100.1 618,2100.1 619,2100.6 620,2076.4 621,2035.7 622,1958.4 623,1853.5 624,1763.3 624.5,1749.4 625,1763.7 626,1852.7 627,1957.6 628,2027.8 629,2069.3 630,2077.8 631,2091.4 632,2099.8 633,2105.5 634,2112.6 635,2108.6 636,2094.6 637,2091.8 638,2108.8 639,2119.7 640,2121.5 641,2112.1 642,2109.8 643,2114.7 644,2120.9 645,2121.8 646,2132.4 647,2111.4 648,2102.7 649,2112 650,2126.7 651,2134 652,2119.5 653,2112.8 654,2119.1 655,2127.1 656,2132.5 657,2133 658,2132.3 659,2122.8 660,2123.1 661,2122.7 662,2133.5 663,2136.6 664,2134.9 665,2127.2 666,2129.2 667,2127.7 668,2128.4 669,2135.6 670,2133.1 671,2125.1 672,2112 673,2109.4 674,2117.6 675,2127.4 676,2135.7 677,2137.9 678,2134 679,2129.6 680,2120.1 681,2118.1 682,2117.7 683,2125.5 684,2139.6 685,2139.7 686,2133.1 687,2127.8 688,2119.2 689,2127 690,2135.6 691,2147.2 692,2133.4 693,2126.5 694,2126.6 695,2121.8 696,2119.4 697,2125.6 698,2137 699,2138.3 700,2143.8 701,2134.8 702,2133 703,2126 704,2119.2 705,2131.4 706,2129.8 707,2136.3 708,2122.9 709,2115 710,2113.2 711,2129.4 712,2127.7 713,2123.9 714,2124.3 715,2114 716,2124.9 717,2125 718,2136.1 719,2133 720,2146.5 721,2131.4 722,2135.4 723,2142.9 724,2143.3 725,2141.4 726,2148.1 727,2142.1 728,2143.3 729,2140 730,2135.2 731,2131.6 732,2151.1 733,2157.7 734,2139.1 735,2124.4 736,2128 737,2130.4 738,2136.4 739,2138.4 740,2135.3 741,2127.4 742,2116.9 743,2131.7 744,2129.6 745,2147.6 746,2152.6 747,2143.2 748,2139.3 749,2129.1 750,2126.1 751,2125.5 752,2133.6 753,2130 754,2123.7 755,2117.6 756,2112.9 756.9,2111.9 757,2111.9 758,2112.8 759,2115.9 760,2122.5 761,2125.1 762,2119.3 763,2124.6 764,2125.4 765,2138.2 766,2130.8 767,2133.7 768,2131.2 769,2128.5 770,2121 771,2123.7 772,2136.1 773,2134.3 774,2125.8 775,2121.7 776,2122.2 777,2125.7 778,2138.3 779,2140.2 780,2138.2 781,2129.8 782,2122.1 783,2115.1 784,2129 785,2135.4 786,2137.4 787,2141.1 788,2125.7 789,2122.3 790,2120.8 791,2129.7 792,2130.2 793,2136.1 794,2121.3 795,2115.6 796,2112.3 797,2128.2 798,2133.4 799,2127.4 800,2120.9 801,2119.2 802,2121.1 803,2137.9 804,2147.6 805,2149.3 806,2137 807,2125.3 808,2131.1 809,2134.2 810,2145.1 811,2146.7 812,2143.9 813,2134.7 814,2129.6 815,2123.8 816,2134.7 817,2138.3 818,2131 819,2131.6 820,2125.8 821,2124.4 822,2124.7 823,2126.4 824,2135.9 825,2140.1 826,2129.1 827,2126.7 828,2117.3 829,2116.4 830,2120.8 831,2125.3 832,2129.3 833,2132.7 834,2126 835,2115.5 836,2109.7 837,2104.8 838,2085 839,2053.5 840,2021.9 840.8,2012.5 841,2013 842,2031.1 843,2064.5 844,2095.2 845,2110 846,2123.1 847,2117.5 848,2114.1 849,2121.8 850,2123.6 851,2124.3 852,2130 853,2126.2 854,2126.2 855,2121.4 856,2127.3 857,2128.8 858,2134.3 859,2142.8 860,2136.2 861,2128.6 862,2118.6 863,2111.2 864,2114.9 865,2128.1 866,2129.4 867,2137.9 868,2132.6 869,2129 870,2116.1 871,2111.5 872,2116.6 873,2120.8 874,2133.1 875,2125.5 876,2126.5 877,2117 878,2119.9 879,2127.5 880,2134.1 881,2143.7 882,2132 883,2132.2 884,2126.7 885,2140 886,2131.3 887,2127.7 888,2123.1 889,2119.1 890,2128.3 891,2128.1 892,2135.8 893,2136.7 894,2132.7 895,2121.4 896,2124.5 897,2127.5 898,2124.3 899,2125.3 900,2127.7 901,2128.4 902,2123.1 903,2122.8 904,2132.3 905,2124.8 906,2128.9 907,2127.1 908,2119.4 909,2130.9 910,2133.9 911,2127.4 912,2122.7 913,2116 914,2111.3 915,2123.9 916,2134.7 917,2131.8 918,2134.5 919,2133.8 920,2136.7 921,2146.9 922,2144.4 923,2136 924,2126.1 925,2129.4 926,2137.5 927,2133.5 928,2126.2 929,2116.8 930,2118.2 931,2126.9 932,2133.8 933,2145 934,2142.5 935,2123.5 936,2120.2 937,2125.5 938,2127.1 939,2132.9 940,2137.4 941,2131 942,2130.4 943,2119.6 944,2124.8 945,2130.6 946,2134.4 947,2132.9 948,2136.9 949,2131.8 950,2127.3 951,2130.6 952,2123.8 953,2133.3 954,2142.6 955,2138.5 956,2127.2 957,2129.1 958,2132.6 959,2123.3 960,2133.6 961,2136.2 962,2134.8 963,2131 964,2127 965,2133.3 966,2130.5 967,2134.2 968,2127.2 969,2124.9 970,2124.6 971,2125.9 972,2127.6 973,2142.9 974,2134.7 975,2131.2 976,2135.3 977,2122.9 978,2123.7 979,2131.5 980,2141.9 981,2146.5 982,2140.8 983,2139.2 984,2131.9 985,2131.3 986,2132 987,2133.2 988,2127.7 989,2135 990,2128.6 991,2136.6 992,2130.4 993,2136.1 994,2135.9 995,2127.1 996,2128.7 997,2131.4 998,2136 999,2141.8 1000,2148.5 1001,2137.6 1002,2124.6 1003,2119 1004,2110.7 1005,2115 1006,2109 1007,2116.6 1008,2119.7 1009,2114.9 1010,2108.3 1011,2101 1012,2099 1013,2101 1014,2105.8 1015,2112.6 1016,2117.7 1017,2129.4 1018,2132 1019,2134.7 1020,2135.4 1021,2122.7 1022,2126.9 1023,2123.6 1024,2134.4 1025,2136.8 1026,2142.8 1027,2142.1 1028,2127.3 1029,2123.5 1030,2132 1031,2134.9 1032,2138.3 1033,2128.6 1034,2128.3 1035,2132.4 1036,2128.5 1037,2134.3 1038,2141.1 1039,2149.6 1040,2138.1 1041,2137.8 1042,2130 1043,2124.6 1044,2126.4 1045,2141.6 1046,2144.5 1047,2134.7 1048,2128.5 1049,2119.9 1050,2128.1 1051,2125.7 1052,2133.9 1053,2136.2 1054,2132.9 1055,2125.3 1056,2120.7 1057,2125.7 1058,2133.9 1059,2131.1 1060,2138.2 1061,2134.9 1062,2128.3 1063,2127.6 1064,2113.1 1065,2119.3 1066,2125.7 1067,2130.8 1068,2134.4 1069,2132 1070,2127.6 1071,2120.2 1072,2123.1 1073,2129.7 1074,2136.4 1075,2140.8 1076,2137.1 1077,2128.8 1078,2127 1079,2125.3 1080,2135.9 1081,2139.1 1082,2136.5 1083,2135 1084,2123.6 1085,2126.9 1086,2131.3 1087,2141.5 1088,2137.4 1089,2122.5 1090,2123.3 1091,2133 1092,2127.5 1093,2135 1094,2129.4 1095,2130.3 1096,2128.1 1097,2117.6 1098,2127.4 1099,2129.1 1100,2132.9 1101,2128.4 1102,2121 1103,2119.8 1104,2119.1 1105,2131.1 1106,2131 1107,2129.2 1108,2127.1 1109,2122.6 1110,2114.1 1111,2113.4 1112,2118.5 1113,2130.3 1114,2138.9 1115,2134.1 1116,2135.4 1117,2124.7 1118,2126.1 1119,2124.6 1120,2131.8 1121,2130.5 1122,2136 1123,2133.5 1124,2124.9 1125,2115.3 1126,2115.6 1127,2117.1 1128,2128.1 1129,2130 1130,2134.9 1131,2130.6 1132,2125.4 1133,2125.7 1134,2114.2 1135,2113.6 1136,2115.7 1137,2121.3 1138,2125.4 1139,2120.5 1140,2116.7 1141,2115.7 1142,2119.2 1143,2117 1144,2110.7 1145,2081.5 1146,2057.3 1147,2033 1148,2014 1148.8,2008.5 1149,2008.8 1150,2020.8 1151,2043.2 1152,2064.1 1153,2079.8 1154,2104.8 1155,2118.9 1156,2123.4 1157,2126.8 1158,2126.5 1159,2119.9 1160,2126.3 1161,2124.7 1162,2130.7 1163,2129.9 1164,2127 1165,2116 1166,2121.2 1167,2121.9 1168,2123.6 1169,2129.5 1170,2136.1 1171,2131.4 1172,2130.1 1173,2121.8 1174,2124.8 1175,2130.1 1176,2126.9 1177,2131.5 1178,2139.2 1179,2136.5 1180,2127.9 1181,2117.1 1182,2124.8 1183,2129.7 1184,2137.7 1185,2144.5 1186,2132.6 1187,2124.9 1188,2121.5 1189,2118 1190,2131.4 1191,2133.6 1192,2146.2 1193,2149.7 1194,2136.9 1195,2130 1196,2124.3 1197,2126.2 1198,2139.7 1199,2139.4 1200,2138 1201,2133.1 1202,2125.5 1203,2120.1 1204,2128.6 1205,2130.6 1206,2128.8 1207,2122.2 1208,2120.6 1209,2127.3 1210,2125.3 1211,2137 1212,2138.1 1213,2135.9 1214,2128.2 1215,2127.8 1216,2129.6 1217,2128.9 1218,2124.7 1219,2133 1220,2128.8 1221,2124.6 1222,2120.8 1223,2121.5 1224,2129 1225,2133.2 1226,2132.9 1227,2132.8 1228,2130"/>
<polyline fill="none" stroke="#000" stroke-width="1.25" stroke-linejoin="round" points="100,2472 101,2477.9 102,2487.4 103,2489.2 104,2490.4 105,2479.3 106,2475.9 107,2494.9 108,2510.9 109,2521.4 110,2508.8 111,2505.3 112,2520.4 113,2533.3 114,2559.2 115,2555.9 116,2538.7 117,2531.2 118,2516.1 119,2532.3 120,2548.5 121,2571 122,2577 123,2556.8 124,2535.7 125,2533.2 126,2563.6 127,2575.1 128,2560.5 129,2563.7 130,2552.7 131,2552.1 132,2564.5 133,2582.5 134,2583.4 135,2541.8 136,2552.7 137,2550.1 138,2577.2 139,2584 140,2581.4 141,2555.1 142,2583.6 143,2600.7 144,2611.9 145,2611.4 146,2609.7 147,2592.6 148,2592 149,2590.8 150,2585 151,2602.9 152,2600.5 153,2589.6 154,2589.1 155,2605.9 156,2614.2 157,2619.3 158,2630.8 159,2638.3 160,2619.6 161,2615.1 162,2619.4 163,2636.1 164,2651 165,2629.5 166,2615.9 167,2629.6 168,2635.3 169,2664.6 170,2644.2 171,2642.6 172,2628.4 173,2637 174,2645.1 175,2645.6 176,2630.8 177,2632.4 178,2646.4 179,2658 180,2659.1 181,2648.2 182,2646.1 183,2648.1 184,2664 185,2675.9 186,2671.2 187,2666.1 188,2663.4 189,2659.7 190,2659.5 191,2697.3 192,2671 193,2647.9 194,2657.5 195,2659.9 196,2677.6 197,2683.9 198,2688.1 199,2680.6 200,2681.2 201,2691.6 202,2695.3 203,2690.3 204,2696.1 205,2693 206,2679.8 207,2672.6 208,2655.4 209,2663.1 210,2683.5 211,2677.9 212,2678.5 213,2693.9 214,2698.4 215,2702 216,2688.1 217,2676.7 218,2683.8 219,2684.4 220,2693.3 221,2688.2 222,2679 223,2673.8 224,2662.2 225,2679.4 226,2688.2 227,2697.8 228,2713.2 229,2693.6 230,2703.9 231,2676.6 232,2681.3 233,2690.5 234,2697.1 235,2713.2 236,2703 237,2702.7 238,2696.8 239,2689.6 240,2722.7 241,2739.1 242,2722.9 243,2713 244,2710.5 245,2706.1 246,2726.8 247,2729.3 248,2724.3 249,2714.4 250,2711.5 251,2715.3 252,2723.4 253,2745.6 254,2726.3 255,2717.6 256,2711.7 257,2731.8 258,2727.2 259,2748.9 260,2745.5 261,2736.3 262,2727.3 263,2708.2 264,2713.6 265,2712 266,2726.6 267,2730.2 268,2731.9 269,2732.2 270,2728.6 271,2738.2 272,2742.7 273,2752 274,2735.9 275,2723.4 276,2718.1 277,2721.6 278,2731.9 279,2736.3 280,2727.4 281,2734.2 282,2731.4 283,2730.9 284,2732.2 285,2740.1 286,2757.5 287,2746.7 288,2742.7 289,2734 290,2739.1 291,2738.6 292,2735 293,2734.6 294,2732.1 295,2717.9 296,2719.5 297,2741.3 298,2751.9 299,2756.8 300,2743.4 301,2742.3 302,2716.5 303,2732.3 304,2747 305,2748.9 306,2754.4 307,2744.6 308,2737.6 309,2740.6 310,2747.6 311,2745.9 312,2734.1 313,2727.5 314,2732.4 315,2742.2 316,2754.5 317,2758.7 318,2741.3 319,2749.3 320,2764.5 321,2765.8 322,2748.1 323,2736.6 324,2740.5 325,2761.2 326,2747.7 327,2731.4 328,2716 329,2688.1 330,2660.1 330.5,2655.4 331,2659.9 332,2687 333,2714 334,2728 335,2739.8 336,2746.2 337,2761.2 338,2751.6 339,2750.3 340,2738.1 341,2749.7 342,2752.8 343,2770.7 344,2760.2 345,2744.5 346,2742.6 347,2734.9 348,2742 349,2748.6 350,2749.4 351,2745.7 352,2729.1 353,2727 354,2733.1 355,2745.1 356,2747.7 357,2748 358,2751.4 359,2746.4 360,2745.9 361,2751.6 362,2752.6 363,2755.1 364,2746.2 365,2741.1 366,2731.9 367,2717.1 368,2685.7 369,2636.8 370,2608.6 371,2636.6 372,2685.6 373,2708.7 374,2725.4 375,2739 376,2733.3 377,2715.8 378,2703.7 378.5,2702 379,2703.9 380,2715.3 381,2729.5 382,2744.6 383,2755.1 384,2749.1 385,2743 386,2745 387,2755 388,2745.9 389,2743.4 390,2741.6 391,2733.6 392,2725.2 393,2702.6 394,2664.6 395,2645.1 396,2664.4 397,2699.7 398,2729.6 399,2747 400,2755.1 401,2747.4 402,2748.6 403,2748.4 404,2761.1 405,2756.3 406,2745.5 407,2750.1 408,2748.1 409,2735.3 410,2731.7 411,2720 412,2711.5 413,2720.7 414,2735.5 415,2743 416,2753.8 417,2761.9 418,2762.6 419,2766 420,2751.5 421,2745.5 422,2736.3 423,2746.4 424,2756.3 425,2744.6 426,2740.8 427,2730.6 428,2720.1 428.5,2718.4 429,2720.1 430,2730 431,2745.8 432,2751 433,2754.5 434,2752 435,2735.7 436,2738.5 437,2750.5 438,2755 439,2756 440,2755.1 441,2748.9 442,2736.9 443,2729.1 444,2710.8 445,2665.8 446,2609.4 446.8,2588.7 447,2590 448,2629.9 449,2686.3 450,2727.4 451,2741.5 452,2744.2 453,2741.8 454,2750.6 455,2757.4 456,2753.6 457,2733.2 458,2738.6 459,2735.3 460,2731.8 461,2716.1 462,2687 463,2666.2 463.6,2662.5 464,2664.4 465,2681.4 466,2707.5 467,2731.1 468,2749.6 469,2746.4 470,2745.7 471,2750.1 472,2760.3 473,2747.4 474,2750.5 475,2753.3 476,2758.8 477,2766.1 478,2770.5 479,2764.4 480,2762.7 481,2764.7 482,2767.1 483,2773.3 484,2768.1 485,2779.2 486,2770.3 487,2752 488,2746.9 489,2751.5 490,2762.1 491,2776.3 492,2769.7 493,2756.8 494,2752.8 495,2770.7 496,2777.2 497,2773.2 498,2766.2 499,2765.2 500,2754.8 501,2755.9 502,2758.8 503,2759.9 504,2748.2 505,2739 506,2725.2 507,2714.9 507.9,2710.8 508,2710.9 509,2718.8 510,2730.9 511,2744.2 512,2754.6 513,2769.9 514,2772.8 515,2768.9 516,2762.8 517,2773.3 518,2782.6 519,2794.2 520,2789.1 521,2781.7 522,2777 523,2780.5 524,2781.6 525,2783.7 526,2780.7 527,2778.9 528,2776.2 529,2779.7 530,2785.2 531,2790.4 532,2784.4 533,2783.1 534,2777.3 535,2769.6 536,2781.8 537,2788.2 538,2781.2 539,2781.9 540,2778.7 541,2772.3 542,2781 543,2790.8 544,2788.4 545,2774.8 546,2776.8 547,2777.3 548,2791.1 549,2792.8 550,2791.4 551,2784.4 552,2784.3 553,2791.6 554,2794 555,2797.4 556,2790.2 557,2790.7 558,2800.9 559,2797.8 560,2808.9 561,2798 562,2788.5 563,2785.9 564,2791.7 565,2813.2 566,2807.1 567,2794.8 568,2797 569,2793.4 570,2803.6 571,2811.3 572,2800 573,2790.3 574,2794.4 575,2795 576,2806.4 577,2800.1 578,2803.3 579,2797.3 580,2791.9 581,2791.6 582,2795.3 583,2804.5 584,2794.4 585,2792.7 586,2791.9 587,2800.7 588,2804.9 589,2806 590,2800.6 591,2797.1 592,2795 593,2797.7 594,2805.8 595,2808.1 596,2803.3 597,2798.4 598,2790.8 599,2794 600,2796.6 601,2795.1 602,2806 603,2789.4 604,2784.2 605,2791.6 606,2800.6 607,2806.4 608,2799.5 609,2795.4 610,2800.3 611,2799.9 612,2797.5 613,2806.8 614,2804.2 615,2805.7 616,2800.6 617,2805.8 618,2806.1 619,2806.6 620,2811.8 621,2789.8 622,2788.3 623,2795.5 624,2807 625,2816 626,2809.4 627,2793.7 628,2782.2 629,2778.4 630,2770 630.8,2766.9 631,2767.2 632,2774 633,2783.3 634,2787.6 635,2800.7 636,2806.6 637,2808.8 638,2801.2 639,2795.9 640,2796.8 641,2807.9 642,2807.6 643,2806.8 644,2798 645,2798.9 646,2797.4 647,2804.5 648,2807.4 649,2806.2 650,2806.1 651,2806.3 652,2805.9 653,2813.5 654,2813.6 655,2801.8 656,2800.2 657,2793.8 658,2799.3 659,2805.6 660,2808.3 661,2808.8 662,2805.7 663,2800.9 664,2800.3 665,2798.7 666,2805.3 667,2805.3 668,2796.7 669,2795.5 670,2792.1 671,2799.3 672,2805.2 673,2814 674,2814.5 675,2807.7 676,2805 677,2795 678,2800.2 679,2803 680,2797.9 681,2800.9 682,2797.8 683,2791.8 684,2792.1 685,2807.8 686,2818.7 687,2810.6 688,2806.4 689,2803.9 690,2799.3 691,2805.3 692,2811.2 693,2817.1 694,2809.1 695,2809.3 696,2798.3 697,2804.1 698,2805.1 699,2810.1 700,2815.9 701,2804.6 702,2796.2 703,2799 704,2805.1 705,2807.6 706,2809.5 707,2806.4 708,2801.1 709,2798.3 710,2803.6 711,2810.5 712,2807.6 713,2796.9 714,2790.8 715,2797 716,2803.5 717,2815.4 718,2804.3 719,2788.6 720,2791.8 721,2790.6 722,2781.4 723,2776.1 724,2773.5 725,2775.2 726,2781.8 727,2794 728,2800.7 729,2799.4 730,2799.2 731,2797.1 732,2796.9 733,2801.6 734,2795.1 735,2795.5 736,2796.7 737,2796.8 738,2794.8 739,2795.1 740,2795.8 741,2785.4 742,2777.1 743,2770.1 744,2765.3 744.4,2764.7 745,2766.2 746,2773.4 747,2778.3 748,2789.1 749,2798.3 750,2800.2 751,2791.4 752,2788.1 753,2790.6 754,2803.7 755,2807.9 756,2814.1 757,2801.5 758,2798.1 759,2793 760,2792.5 761,2794.7 762,2798.4 763,2805.6 764,2799.8 765,2802.9 766,2796.2 767,2802.2 768,2808.2 769,2813.7 770,2806.4 771,2787.5 772,2789.9 773,2804.1 774,2814.4 775,2812.2 776,2801.7 777,2797.7 778,2795.6 779,2796.8 780,2809.5 781,2819.3 782,2823.1 783,2810.7 784,2807.9 785,2804.5 786,2806.3 787,2813.3 788,2813.6 789,2807.9 790,2803 791,2802.3 792,2801.5 793,2812.3 794,2817.7 795,2811.7 796,2812.9 797,2813.6 798,2808.3 799,2813.6 800,2809.6 801,2821.7 802,2809.7 803,2803.3 804,2801.5 805,2805.9 806,2808.1 807,2810.5 808,2816 809,2808.7 810,2801 811,2804.2 812,2808.2 813,2811.5 814,2814 815,2800.4 816,2799.4 817,2796.1 818,2803.1 819,2808.4 820,2814.7 821,2806.9 822,2803.5 823,2802.5 824,2808 825,2802.8 826,2791.4 827,2782.3 828,2777.7 828.5,2777 829,2777.6 830,2783.3 831,2790.2 832,2795.2 833,2799.2 834,2800.1 835,2805 836,2811.7 837,2810.3 838,2811.2 839,2801.6 840,2802.8 841,2809.8 842,2812.4 843,2810.8 844,2801.2 845,2806.3 846,2812.7 847,2805.2 848,2795.1 849,2794.9 850,2808.3 851,2822 852,2811.8 853,2795.3 854,2792.6 855,2812.5 856,2815.2 857,2808.7 858,2806.4 859,2805.7 860,2803.7 861,2817.3 862,2825 863,2818.7 864,2815.9 865,2803.3 866,2811.3 867,2813.3 868,2815.2 869,2811.6 870,2810.2 871,2795.3 872,2797.4 873,2802.3 874,2804.1 875,2809.2 876,2805 877,2798.6 878,2801.7 879,2801.8 880,2804.1 881,2815.4 882,2815.5 883,2812.5 884,2808.7 885,2798.4 886,2802.6 887,2807.9 888,2811.8 889,2806 890,2804.4 891,2795 892,2807.2 893,2811.8 894,2818.6 895,2817.9 896,2803.3 897,2797.1 898,2810.8 899,2823 900,2812.7 901,2807.8 902,2812.8 903,2819.4 904,2823.1 905,2815.1 906,2807.2 907,2809.1 908,2813.9 909,2829.1 910,2819.4 911,2816 912,2806.4 913,2813.6 914,2828.2 915,2819.5 916,2816.2 917,2807.2 918,2820.7 919,2829.6 920,2827.3 921,2819.1 922,2820.3 923,2816.2 924,2816.3 925,2815.8 926,2825.7 927,2825.2 928,2815.9 929,2817.9 930,2812.9 931,2827 932,2825.6 933,2821.4 934,2808.7 935,2814.2 936,2829.5 937,2832.2 938,2818.5 939,2815.9 940,2805.6 941,2805.9 942,2815.8 943,2823.1 944,2826.5 945,2823.5 946,2815.5 947,2811.2 948,2808.1 949,2811.5 950,2818.2 951,2810.6 952,2813.5 953,2814.1 954,2816 955,2821.9 956,2815.6 957,2809.4 958,2812.8 959,2819.6 960,2828.8 961,2814.7 962,2815.1 963,2823.7 964,2824.4 965,2826.8 966,2819 967,2815 968,2808.5 969,2806.7 970,2812.5 971,2819 972,2815.2 973,2813.1 974,2810.9 975,2822.2 976,2823.3 977,2826.2 978,2822.3 979,2816.9 980,2809 981,2806 982,2809.3 983,2810.8 984,2816.6 985,2809 986,2809 987,2808.6 988,2808.5 989,2813.5 990,2810.8 991,2806.4 992,2802.1 993,2797.8 994,2795.7 994.5,2795.4 995,2795.8 996,2797.9 997,2801.7 998,2804.8 999,2807.8 1000,2818.4 1001,2816 1002,2810.2 1003,2810.5 1004,2810.8 1005,2811.4 1006,2808 1007,2806.7 1008,2807.5 1009,2809.6 1010,2811.2 1011,2820.5 1012,2816.8 1013,2816.3 1014,2806.7 1015,2821.4 1016,2821.1 1017,2816.7 1018,2812.9 1019,2816.4 1020,2815.4 1021,2824.1 1022,2817.1 1023,2819.1 1024,2813.5 1025,2810.6 1026,2815.9 1027,2820.6 1028,2823.8 1029,2821 1030,2814.2 1031,2814.9 1032,2826.3 1033,2821.6 1034,2819.3 1035,2815.5 1036,2808.9 1037,2801.5 1038,2807.1 1039,2813.3 1040,2813.1 1041,2821.7 1042,2810.2 1043,2808.4 1044,2800.5 1045,2806.6 1046,2810.1 1047,2812.9 1048,2813.7 1049,2809.4 1050,2810.7 1051,2808.1 1052,2809.3 1053,2814 1054,2820.5 1055,2819.1 1056,2811.6 1057,2807.2 1058,2810.5 1059,2816.1 1060,2814.3 1061,2815.3 1062,2813.5 1063,2806.8 1064,2808.4 1065,2809.8 1066,2824.1 1067,2812.6 1068,2806.4 1069,2807.4 1070,2814.8 1071,2819.1 1072,2815.4 1073,2807.4 1074,2810.3 1075,2804 1076,2810.8 1077,2814 1078,2817.9 1079,2818.4 1080,2813.8 1081,2808.4 1082,2812.4 1083,2814.3 1084,2813.2 1085,2806.7 1086,2806.1 1087,2813.2 1088,2816.9 1089,2815.8 1090,2810.4 1091,2815.5 1092,2812.5 1093,2808.9 1094,2817.7 1095,2817.1 1096,2820.7 1097,2807.2 1098,2809.8 1099,2813.2 1100,2814.4 1101,2814.3 1102,2808.8 1103,2806.1 1104,2804.7 1105,2807.3 1106,2816.3 1107,2819.7 1108,2824.7 1109,2817.4 1110,2814.6 1111,2815.9 1112,2816.2 1113,2820.8 1114,2817.4 1115,2813.8 1116,2807 1117,2809.7 1118,2812.5 1119,2819.4 1120,2815.3 1121,2810.6 1122,2809.1 1123,2805.2 1124,2810.5 1125,2816.9 1126,2819.7 1127,2813 1128,2807.4 1129,2799.4 1130,2790.3 1131,2783.4 1132,2780.7 1133,2783.4 1134,2789.9 1135,2793.8 1136,2800.5 1137,2806.8 1138,2812.3 1139,2810.6 1140,2805.1 1141,2805.5 1142,2815 1143,2819.7 1144,2809.3 1145,2807.9 1146,2802.9 1147,2812 1148,2817.3 1149,2820.8 1150,2815.6 1151,2807.9 1152,2810.3 1153,2814.9 1154,2813.2 1155,2821 1156,2822 1157,2817.7 1158,2821.8 1159,2814.3 1160,2815.5 1161,2814.5 1162,2803.5 1163,2808.7 1164,2804.2 1165,2808.7 1166,2808.1 1167,2808.1 1168,2805.8 1169,2803.4 1170,2809.2 1171,2826.3 1172,2820.2 1173,2816.2 1174,2811.6 1175,2801.8 1176,2815 1177,2825.5 1178,2821.8 1179,2819 1180,2817.1 1181,2815 1182,2827.8 1183,2819.6 1184,2810.6 1185,2810.7 1186,2818.2 1187,2823.2 1188,2821.8 1189,2812.1 1190,2802.9 1191,2814.4 1192,2829.7 1193,2827.2 1194,2820.7 1195,2815.6 1196,2815.8 1197,2821.5 1198,2830.2 1199,2819.4 1200,2823.7 1201,2815.8 1202,2817.2 1203,2818.9 1204,2815.8 1205,2826.3 1206,2824.5 1207,2811.4 1208,2807.5"/>
<polyline fill="none" stroke="#000" stroke-width="1.25" stroke-linejoin="round" points="100,2712 101,2717.2 102,2718.8 103,2728.6 104,2743.7 105,2771.4 106,2768.7 107,2766.9 108,2763.7 109,2761.9 110,2759.4 111,2773 112,2770.2 113,2770.4 114,2761.1 115,2745.6 116,2771.7 117,2764.1 118,2783.1 119,2786.5 120,2785.9 121,2782.7 122,2780.4 123,2792.3 124,2800.3 125,2795.5 126,2803.3 127,2801.3 128,2797.8 129,2805.8 130,2791.2 131,2811.4 132,2819.7 133,2803.2 134,2807.6 135,2781.4 136,2800.8 137,2808.2 138,2824.7 139,2845.4 140,2841.2 141,2824.8 142,2815.3 143,2803.3 144,2830.3 145,2846.7 146,2848.4 147,2859.8 148,2803 149,2798 150,2837.4 151,2843.7 152,2828.6 153,2808.4 154,2823.6 155,2830 156,2847.2 157,2870.7 158,2854.2 159,2819.4 160,2818.6 161,2840.1 162,2863.7 163,2868.3 164,2840.7 165,2826.8 166,2819.6 167,2834.5 168,2849.7 169,2862.5 170,2860 171,2858.2 172,2837.1 173,2834.9 174,2847.2 175,2854.9 176,2859.4 177,2843.6 178,2842 179,2838.7 180,2833.1 181,2862.9 182,2860.8 183,2823.9 184,2834 185,2845.9 186,2861.1 187,2851.1 188,2847.7 189,2848.2 190,2858 191,2865.4 192,2879.1 193,2861.3 194,2849.7 195,2847 196,2856.4 197,2872.8 198,2891.1 199,2898.5 200,2892.8 201,2881.6 202,2876.7 203,2879.6 204,2878.9 205,2872.3 206,2864.6 207,2865 208,2874.4 209,2862.4 210,2863 211,2870.9 212,2878.6 213,2891.4 214,2888.1 215,2870.4 216,2871.7 217,2886.3 218,2886.5 219,2887.2 220,2875.6 221,2874.7 222,2877.1 223,2888.1 224,2900.7 225,2896.1 226,2896.4 227,2889.3 228,2882.5 229,2897 230,2908.5 231,2916.9 232,2892 233,2893.1 234,2895.8 235,2899.9 236,2902.9 237,2895.5 238,2909.1 239,2909.9 240,2928.4 241,2911.4 242,2885.9 243,2888 244,2889.6 245,2915.6 246,2912.3 247,2915 248,2900.5 249,2902 250,2891.7 251,2898.9 252,2908.8 253,2913.8 254,2907.3 255,2913.6 256,2902.7 257,2911.6 258,2910.6 259,2919.6 260,2929.1 261,2918.4 262,2904.5 263,2889.6 264,2895.5 265,2901.7 266,2918.6 267,2914.6 268,2910 269,2908.4 270,2911.9 271,2920.3 272,2925.4 273,2918.5 274,2900.4 275,2914.5 276,2910.1 277,2916.1 278,2913.5 279,2903.1 280,2911.9 281,2914.6 282,2929.8 283,2923.2 284,2903.2 285,2906.9 286,2908.7 287,2918.8 288,2919.6 289,2916.1 290,2917.2 291,2923.2 292,2926.5 293,2932.5 294,2922.3 295,2910.5 296,2906.3 297,2917.5 298,2915.9 299,2911 300,2904.5 301,2919.9 302,2925.8 303,2914.7 304,2907.6 305,2887 306,2908.6 307,2923.3 308,2949.9 309,2945.6 310,2925.8 311,2913.7 312,2921.2 313,2930.8 314,2934.4 315,2920.7 316,2922.5 317,2934.7 318,2930.5 319,2941.4 320,2929.3 321,2911.3 322,2909.6 323,2919.3 324,2921 325,2936.8 326,2927.2 327,2911.6 328,2889.4 329,2872 329.7,2867.1 330,2868.1 331,2883.6 332,2906.6 333,2919.6 334,2916.8 335,2919.6 336,2906.9 337,2916 338,2928.5 339,2946.6 340,2928.9 341,2939.7 342,2926.3 343,2919.3 344,2911.1 345,2927.9 346,2932.3 347,2939.7 348,2935 349,2935.4 350,2927.7 351,2930 352,2937.4 353,2948.5 354,2938.7 355,2938.4 356,2930.7 357,2940 358,2933.6 359,2937.5 360,2936.7 361,2926.6 362,2919.7 363,2917.5 364,2937.5 365,2937.7 366,2915.1 367,2893 368,2856.3 369,2822.8 369.5,2816.6 370,2822.5 371,2855.7 372,2890.9 373,2912.2 374,2914.5 375,2922.9 376,2924.2 377,2918.6 378,2910.1 379,2910.1 380,2918.4 381,2925.6 382,2921.3 383,2921 384,2908.4 385,2907.7 386,2909.3 387,2916 388,2925.4 389,2922 390,2916.3 391,2908.2 392,2903.4 393,2896.4 394,2888.6 394.4,2887.6 395,2890 396,2900.1 397,2905.3 398,2909.1 399,2914.1 400,2925.8 401,2920.7 402,2925.4 403,2917.4 404,2918.1 405,2921.7 406,2929.8 407,2928.8 408,2921.2 409,2914.1 410,2906 411,2900.7 411.2,2900.7 412,2904.8 413,2917 414,2920.7 415,2913.9 416,2921.4 417,2926.7 418,2934.4 419,2936.3 420,2926 421,2929.4 422,2916.9 423,2930.9 424,2930 425,2938.2 426,2926 427,2926.8 428,2925.8 429,2918.2 430,2933.5 431,2944.3 432,2930.9 433,2931.7 434,2925.3 435,2916.7 436,2927.2 437,2932 438,2936.1 439,2936.8 440,2929.1 441,2919.5 442,2919.6 443,2927.1 444,2925.4 445,2919.9 446,2910.7 447,2905.3 448,2910.1 449,2922.6 450,2931.7 451,2929.9 452,2922.8 453,2928.6 454,2937.7 455,2932.6 456,2924.5 457,2911.8 458,2917 459,2927.4 460,2929 461,2918.6 462,2906 463,2888.3 464,2878.3 465,2884.9 466,2894.2 467,2890.4 468,2881 468.6,2879.6 469,2882.6 470,2902.4 471,2919.2 472,2930.9 473,2931.4 474,2940.2 475,2951.6 476,2951.1 477,2959.1 478,2948.4 479,2946.3 480,2938.6 481,2937.1 482,2948.8 483,2956.5 484,2942.8 485,2944.2 486,2931.5 487,2943.3 488,2958 489,2948.3 490,2937.4 491,2930.4 492,2940.2 493,2952.7 494,2961.6 495,2960.7 496,2952 497,2948.1 498,2943.6 499,2942.9 500,2951.5 501,2955.1 502,2956.6 503,2954.9 504,2941.4 505,2936 506,2924.7 507,2913.8 508,2906.3 508.4,2905.7 509,2907.9 510,2917.3 511,2932 512,2940.2 513,2945.8 514,2952.3 515,2963.3 516,2964.3 517,2958.4 518,2939.6 519,2949.1 520,2961.2 521,2964.9 522,2969.6 523,2954.4 524,2953.4 525,2962.3 526,2962.8 527,2967 528,2954.9 529,2950.3 530,2956.4 531,2960.6 532,2966 533,2968.1 534,2965.1 535,2959.6 536,2954.8 537,2952.4 538,2960.4 539,2971.8 540,2964.4 541,2955.9 542,2943.9 543,2955.4 544,2965.2 545,2974.8 546,2978.2 547,2968.8 548,2966.5 549,2961.5 550,2961.8 551,2969.3 552,2973.9 553,2972.7 554,2970.5 555,2964.4 556,2970.3 557,2976.3 558,2977.8 559,2963.6 560,2965.5 561,2963.8 562,2967.1 563,2967.6 564,2972.6 565,2960.6 566,2959.2 567,2948.4 568,2957.6 569,2961 570,2977.2 571,2970.4 572,2950.4 573,2962.4 574,2975.1 575,2983.2 576,2967.8 577,2955.7 578,2953.2 579,2970.5 580,2964.6 581,2957.3 582,2949 583,2946.3 584,2951.7 585,2958.7 586,2964.8 587,2960.1 588,2964.5 589,2974.7 590,2975.6 591,2970.7 592,2971.2 593,2962.4 594,2973.8 595,2976.3 596,2973.6 597,2976 598,2971 599,2973 600,2969.4 601,2974.1 602,2982 603,2975.9 604,2978.8 605,2972.8 606,2965.5 607,2964.9 608,2967.7 609,2970.1 610,2959 611,2949.5 611.7,2946.8 612,2947.2 613,2952.7 614,2961.8 615,2975.7 616,2982.3 617,2977.3 618,2975.4 619,2961 620,2970.1 621,2976.4 622,2972.2 623,2979.4 624,2968.4 625,2964 626,2971.4 627,2967.8 628,2965 629,2959.7 630,2957.2 631,2959.9 632,2965.9 633,2972.9 634,2984.6 635,2980.9 636,2969 637,2961.5 638,2965 639,2974.8 640,2976.3 641,2985 642,2975.4 643,2962.9 644,2964.5 645,2974.8 646,2980.8 647,2983 648,2983.7 649,2974.7 650,2976.1 651,2981.7 652,2983.2 653,2981.9 654,2973.6 655,2966.1 656,2977.6 657,2976.9 658,2983.5 659,2976.9 660,2971.7 661,2967.8 662,2978.3 663,2978.4 664,2987.5 665,2982.6 666,2974.6 667,2968.7 668,2973.5 669,2983.7 670,2988.6 671,2979.6 672,2975.9 673,2970.8 674,2975.6 675,2980.7 676,2981.9 677,2982.5 678,2977.1 679,2975.8 680,2978.5 681,2982.7 682,2984.2 683,2993.2 684,2981.2 685,2969.9 686,2968.6 687,2972.4 688,2977.8 689,2981.9 690,2975.4 691,2970.5 692,2971.7 693,2972.9 694,2976.6 695,2983.2 696,2977.7 697,2974.8 698,2968.5 699,2979.2 700,2993.4 701,2985.5 702,2977.3 703,2968.5 704,2979.1 705,2984 706,2990.2 707,2986.3 708,2975 709,2974.2 710,2984.4 711,2991.2 712,2982 713,2973.8 714,2979.2 715,2984.2 716,2984.5 717,2976.7 718,2972.9 719,2966 720,2960.4 721,2956.5 721.6,2955.6 722,2956.1 723,2960.1 724,2965.7 725,2970.5 726,2975.3 727,2976 728,2982.9 729,2983.6 730,2986.3 731,2979.8 732,2986.6 733,2987.7 734,2991.8 735,2989 736,2977 737,2966.6 738,2975.8 739,2975.3 740,2982.5 741,2977.4 742,2967.3 743,2959.7 744,2951.3 744.8,2948.8 745,2948.9 746,2953.3 747,2962.1 748,2971.7 749,2975.7 750,2970.8 751,2971.3 752,2981.4 753,2987.1 754,2990.9 755,2983.3 756,2985 757,2972.8 758,2979.1 759,2980.6 760,2989.6 761,2989.9 762,2986 763,2977.1 764,2990.8 765,2997.3 766,2997.7 767,2986.7 768,2979.3 769,2975.1 770,2978.6 771,2988.5 772,2999.8 773,2984.7 774,2984.1 775,2975 776,2983.5 777,2993.3 778,2990.8 779,3003.1 780,2991.2 781,2998.6 782,2989.5 783,2999.5 784,2993.5 785,2996.3 786,2991.4 787,2987.7 788,2979.1 789,2982.7 790,2987 791,2999.7 792,2993.2 793,2972.2 794,2980.7 795,2988.8 796,2991.7 797,2988 798,2981 799,2977.9 800,2976.7 801,2994.3 802,2987.5 803,2995.2 804,2981.7 805,2975.6 806,2973.7 807,2982.8 808,2982.2 809,2981.9 810,2977.6 811,2974.6 812,2966.9 813,2967.5 814,2968 815,2977.9 816,2974.4 817,2978.6 818,2974.6 819,2975.7 820,2978.2 821,2980.9 822,2977.6 823,2974.5 824,2971.3 825,2969.3 826,2966.5 826.7,2965.8 827,2965.8 828,2966.4 829,2967 830,2966.9 831,2972.6 832,2977.2 833,2983.8 834,2974.5 835,2972.9 836,2967.9 837,2972.6 838,2979.4 839,2980.2 840,2983 841,2976 842,2969.7 843,2977 844,2984.2 845,2985.9 846,2980 847,2974.1 848,2969.4 849,2971.6 850,2978.2 851,2976.4 852,2981.4 853,2969.3 854,2966.7 855,2976.4 856,2979.3 857,2983.1 858,2980.9 859,2970.4 860,2972.5 861,2967.6 862,2979.3 863,2976 864,2973.4 865,2967.3 866,2984.3 867,2993.9 868,2983.9 869,2984.5 870,2968.8 871,2974.3 872,2980.7 873,2985.3 874,2989.4 875,2970.7 876,2971.9 877,2982.4 878,2979.6 879,2974.8 880,2978.8 881,2981.3 882,2977.8 883,2977.5 884,2981.6 885,2983.4 886,2977 887,2973.8 888,2977.6 889,2980.6 890,2984 891,2988 892,2974.5 893,2976 894,2972 895,2969.3 896,2982.9 897,2984.6 898,2980.1 899,2987 900,2973.6 901,2974.4 902,2982.9 903,2985.4 904,2988.4 905,2977.9 906,2976.3 907,2980.4 908,2986.2 909,2992.5 910,2989.1 911,2977.6 912,2976 913,2982.6 914,2981.1 915,2982.1 916,2982.5 917,2981.8 918,2980.7 919,2982.9 920,2984.7 921,2984.9 922,2980 923,2971.6 924,2969.9 925,2979.9 926,2985.4 927,2982.2 928,2981.1 929,2977 930,2973.8 931,2982.5 932,2991.3 933,2987.9 934,2986.2 935,2983.9 936,2979.5 937,2985.9 938,2987.8 939,2992.7 940,2996.7 941,2985.3 942,2972.4 943,2982.5 944,2986.9 945,2991.8 946,2986.6 947,2983 948,2980.8 949,2979.6 950,2989.8 951,2989 952,2981 953,2982.7 954,2977.3 955,2982.4 956,2981.9 957,2983.7 958,2992 959,2986.9 960,2986.3 961,2984.7 962,2984.3 963,2991.9 964,2991 965,2979.8 966,2981.3 967,2978.4 968,2974.8 969,2977.8 970,2978.6 971,2983.9 972,2985.4 973,2985.4 974,2980.9 975,2979.5 976,2980.4 977,2978.2 978,2981.2 979,2975.4 980,2979.6 981,2974.8 982,2980.8 983,2982.7 984,2989.3 985,2987.2 986,2977.5 987,2983.3 988,2983 989,2981.1 990,2978.4 991,2973 992,2970.9 993,2970 993.4,2970 994,2970 995,2971.4 996,2975.9 997,2979.5 998,2976.7 999,2973.5 1000,2968.7 1001,2981.1 1002,2981.6 1003,2986.7 1004,2983.5 1005,2979.4 1006,2982.6 1007,2982 1008,2992.5 1009,2993.1 1010,2989.5 1011,2982.2 1012,2982.5 1013,2981.9 1014,2986.7 1015,3000.9 1016,2996.5 1017,2988.1 1018,2985.5 1019,2974 1020,2974 1021,2980.1 1022,2982.9 1023,2973.8 1024,2973.9 1025,2982.2 1026,2990.5 1027,2991.8 1028,2992.3 1029,2990 1030,2983.4 1031,2981.2 1032,2989.4 1033,2984 1034,2984.6 1035,2983 1036,2979.1 1037,2984.5 1038,2993.2 1039,2991.1 1040,2986.4 1041,2976.2 1042,2980.9 1043,2979.3 1044,2983.7 1045,2987.9 1046,2995.7 1047,2988.5 1048,2984.6 1049,2982.1 1050,2993.1 1051,2999.1 1052,2995.3 1053,2993.6 1054,2977.3 1055,2984.8 1056,2991.8 1057,2992.2 1058,2984.2 1059,2972.8 1060,2979.4 1061,2987.4 1062,2995.6 1063,2980.4 1064,2968.1 1065,2975.5 1066,2982.9 1067,2991 1068,2990.8 1069,2988.9 1070,2979.8 1071,2990.6 1072,2988.2 1073,2993.2 1074,2987.1 1075,2977.5 1076,2975.6 1077,2978.3 1078,2990.3 1079,2983.6 1080,2979.7 1081,2977.6 1082,2977.8 1083,2982.5 1084,2988.8 1085,2987 1086,2984.8 1087,2976.1 1088,2978.1 1089,2971.2 1090,2983.6 1091,2989.8 1092,2998.9 1093,2986.7 1094,2974.6 1095,2980.6 1096,2993.4 1097,2996.5 1098,2992.9 1099,2991.8 1100,2988.4 1101,2992.7 1102,2991.1 1103,2986.7 1104,2981.8 1105,2986.4 1106,2974.8 1107,2981.4 1108,2987.7 1109,2992.7 1110,2980.6 1111,2978.1 1112,2982.9 1113,2992.4 1114,2987.6 1115,2982.9 1116,2972.6 1117,2977.5 1118,2980.9 1119,2988.7 1120,2989.6 1121,2990 1122,2980.8 1123,2976.9 1124,2971.5 1125,2981.8 1126,2980.7 1127,2973 1128,2964.7 1129,2959.9 1129.8,2959 1130,2959.1 1131,2962.3 1132,2969.7 1133,2978.3 1134,2977.4 1135,2983 1136,2986.4 1137,2988.9 1138,2992.1 1139,2983.9 1140,2981.6 1141,2978.5 1142,2985.3 1143,2985.9 1144,2990.9 1145,2984.7 1146,2983 1147,2984 1148,2988.8 1149,2979.6 1150,2972.3 1151,2984.1 1152,2991 1153,2995.2 1154,2985.2 1155,2978.3 1156,2989.8 1157,2987.9 1158,2993.4 1159,2990.7 1160,2985 1161,2983.3 1162,2975.8 1163,2986.4 1164,2988.5 1165,2990.9 1166,2987 1167,2982 1168,2981.2 1169,2986.6 1170,2988.2 1171,2987.2 1172,2983.5 1173,2984.5 1174,2978.7 1175,2977.1 1176,2986.2 1177,2991.8 1178,3000.6 1179,2990.8 1180,2985.4 1181,2981.8 1182,2976 1183,2980.3 1184,2987.3 1185,2988.2 1186,2986.9 1187,2990.8 1188,2980.3 1189,2983 1190,2987 1191,2991.2 1192,2996.3 1193,2999 1194,2994.3 1195,2983.4 1196,2979.7 1197,2988.3 1198,2985.1 1199,2998.9 1200,2998.6 1201,2994.2 1202,2982.4 1203,2980.1 1204,2975.5 1205,2983.3 1206,2991.3 1207,2990.6 1208,2978.8"/>
<polyline fill="none" stroke="#000" stroke-width="1.25" stroke-linejoin="round" points="100,2858 101,2863.3 102,2870.9 103,2886.2 104,2890.9 105,2898.5 106,2895.6 107,2909.2 108,2919.5 109,2931.8 110,2935.4 111,2928.1 112,2913.5 113,2895.4 114,2911.8 115,2928.5 116,2934 117,2915.8 118,2907.5 119,2914.2 120,2921.3 121,2956.6 122,2936.2 123,2934.1 124,2914.4 125,2934.2 126,2954.9 127,2985.3 128,2959.4 129,2932.3 130,2939.7 131,2949.3 132,2952.9 133,2981 134,2974.6 135,2967.5 136,2965.3 137,2989.3 138,2997.8 139,2987.7 140,2985.8 141,2981.9 142,2992.7 143,2989.7 144,2986 145,2999 146,2957.9 147,2959.8 148,2981 149,3001 150,2985.1 151,2982.1 152,2995 153,2994.2 154,2994.2 155,2983.1 156,2962.4 157,2966.6 158,2984 159,3001.4 160,3006.1 161,3004.8 162,2980.2 163,2965.1 164,2964.8 165,2974.9 166,2988 167,2988.5 168,2967.2 169,2965.8 170,2989.5 171,2998.1 172,2974.4 173,2968.8 174,2961.8 175,2985.7 176,2992.8 177,2989.6 178,2977.9 179,2973.7 180,2975.8 181,2979.5 182,3004.2 183,2995.9 184,2994.5 185,2993.7 186,2995.3 187,3004.5 188,3019.7 189,3030.2 190,3013.9 191,3013.4 192,3000.5 193,3008.3 194,3035.8 195,3060.1 196,3035.5 197,3016.2 198,3033.5 199,3057.5 200,3073.6 201,3064.2 202,3059 203,3052.9 204,3062.6 205,3061.7 206,3077.2 207,3083.5 208,3057.9 209,3056.3 210,3078.5 211,3078.9 212,3077.2 213,3059.1 214,3061.7 215,3067 216,3069.4 217,3069.4 218,3059.5 219,3053.3 220,3059.7 221,3062.3 222,3078.9 223,3080.7 224,3079.9 225,3070.3 226,3055.8 227,3051.2 228,3058.7 229,3056.7 230,3078.6 231,3083 232,3079.4 233,3074 234,3067.5 235,3068.2 236,3057.1 237,3075.2 238,3074.1 239,3062.1 240,3064.1 241,3049.2 242,3068.4 243,3089.7 244,3077.3 245,3071.2 246,3062.8 247,3078.5 248,3082.1 249,3066.7 250,3079.2 251,3060.6 252,3063.4 253,3065 254,3067.2 255,3068.5 256,3064.6 257,3057.8 258,3059.7 259,3069.2 260,3066.4 261,3069.1 262,3049.1 263,3042.8 264,3061.9 265,3068 266,3091.7 267,3080.2 268,3076.9 269,3076.3 270,3062.5 271,3075.7 272,3093.1 273,3081.5 274,3078.6 275,3077 276,3077.6 277,3087.7 278,3098.1 279,3083.8 280,3072.4 281,3081 282,3083.9 283,3080.5 284,3068.4 285,3067.3 286,3058.4 287,3071.7 288,3069.4 289,3083.4 290,3076.7 291,3073.9 292,3073.1 293,3086.1 294,3092.7 295,3080.1 296,3070 297,3075.6 298,3085.1 299,3076 300,3074.6 301,3071.7 302,3081.4 303,3084.6 304,3085.4 305,3088.8 306,3085.7 307,3077.7 308,3079 309,3082.6 310,3088.8 311,3075.5 312,3071.9 313,3086.9 314,3093.3 315,3106.2 316,3104.1 317,3089.4 318,3093.5 319,3091.5 320,3096.1 321,3103.1 322,3104.5 323,3093.5 324,3098.4 325,3099.6 326,3100.2 327,3111.3 328,3111.7 329,3101.2 330,3098.5 331,3080.1 332,3087.4 333,3082.2 334,3091.2 335,3105.2 336,3099.7 337,3092 338,3079.5 339,3095.3 340,3110.8 341,3105.1 342,3107.5 343,3098 344,3094.4 345,3085.9 346,3104 347,3106.3 348,3115.3 349,3109.9 350,3095.4 351,3082.2 352,3082.8 353,3103.2 354,3110.6 355,3118.2 356,3107.1 357,3098 358,3097.2 359,3089.3 360,3088.7 361,3103.2 362,3103.8 363,3109.2 364,3102.4 365,3094.7 366,3086 367,3066.5 368,3036 369,2992.7 369.7,2979.5 370,2982.1 371,3016.7 372,3050.7 373,3080.1 374,3090 375,3106.3 376,3109.6 377,3110.9 378,3095.6 379,3085.9 380,3106.6 381,3103.4 382,3110.9 383,3109.6 384,3103.3 385,3097.8 386,3094.5 387,3109.4 388,3130.4 389,3122.6 390,3100.6 391,3091 392,3103 393,3112 394,3114.7 395,3107.7 396,3087.8 397,3096.3 398,3112 399,3113.9 400,3107.3 401,3103.7 402,3099.8 403,3092.4 404,3087.2 405,3083.8 406,3088.2 407,3095.4 408,3102.4 409,3115.3 410,3124.4 411,3117.2 412,3100 413,3111.1 414,3110.3 415,3113.8 416,3131.7 417,3128.1 418,3123.5 419,3120.7 420,3128 421,3140.8 422,3126.7 423,3106.2 424,3104.1 425,3121.8 426,3130.9 427,3124 428,3110.3 429,3105.7 430,3112.8 431,3117.7 432,3110.3 433,3107.3 434,3105.6 435,3121.7 436,3134.8 437,3130.8 438,3117.4 439,3108.5 440,3114.9 441,3127 442,3136.5 443,3129.7 444,3115.8 445,3115.1 446,3114.1 447,3117.7 448,3125.3 449,3121 450,3118.6 451,3115 452,3114.1 453,3108 454,3112.5 455,3108.1 456,3124.1 457,3124.3 458,3115.6 459,3117.5 460,3116.8 461,3113.7 462,3122.5 463,3121.9 464,3140.3 465,3132.7 466,3127.6 467,3116.8 468,3114.1 469,3109 470,3098 471,3092.9 472,3097.8 473,3106.8 474,3118.8 475,3133.9 476,3135 477,3125.5 478,3120.4 479,3120.6 480,3129.7 481,3131.4 482,3136.6 483,3121.4 484,3123.3 485,3130.8 486,3129.9 487,3144 488,3130.3 489,3128.1 490,3122.4 491,3117.2 492,3122.2 493,3127.2 494,3131.3 495,3138.1 496,3139.4 497,3138.2 498,3135.1 499,3139.9 500,3145.5 501,3156.9 502,3143.4 503,3131.6 504,3126.5 505,3119.2 506,3113.7 506.7,3111.6 507,3112.1 508,3120 509,3128.5 510,3128.8 511,3126.3 512,3133 513,3138 514,3132.8 515,3135.6 516,3131.8 517,3127.9 518,3144.2 519,3142.8 520,3150.6 521,3142.2 522,3127.9 523,3128.6 524,3137.5 525,3150.3 526,3138 527,3120 528,3111.8 529,3106.7 530,3115 531,3125.4 532,3129 533,3131.7 534,3141.6 535,3145.9 536,3154.5 537,3149.2 538,3145.3 539,3134.4 540,3139.4 541,3147.7 542,3150.7 543,3145.2 544,3135.5 545,3135.2 546,3130.6 547,3137.8 548,3150.1 549,3143.9 550,3140 551,3139.8 552,3140 553,3141.2 554,3149.6 555,3161.4 556,3159.5 557,3145.2 558,3153 559,3155.1 560,3161.8 561,3156.4 562,3156 563,3140.4 564,3145.6 565,3153.9 566,3165.2 567,3160 568,3156.8 569,3149.7 570,3150 571,3150.6 572,3153.2 573,3165.4 574,3154.3 575,3148.9 576,3148.7 577,3148.9 578,3142.9 579,3138.1 580,3110.2 581,3058.7 582,3003.3 583,2975.2 584,3003.1 585,3060.5 586,3106.3 587,3127.1 588,3126 589,3135.1 590,3152.4 591,3157.8 592,3157.1 593,3152.9 594,3146.9 595,3154 596,3155.9 597,3159.2 598,3150.2 599,3152.9 600,3150.2 601,3146.4 602,3148 603,3153.1 604,3146.3 605,3137.6 606,3134.2 607,3116.7 608,3084.9 609,3022.6 610,2942.3 611,2872.4 611.7,2853.6 612,2857.4 613,2912.6 614,2996.7 615,3059.8 616,3103.9 617,3125.6 618,3139.5 619,3136 620,3138.1 621,3139.4 622,3137.2 623,3146.2 624,3151.4 625,3149.6 626,3143.6 627,3146.9 628,3149.4 629,3150.5 630,3153.9 631,3145.9 632,3147.8 633,3167.7 634,3161.1 635,3151.6 636,3149.2 637,3145.7 638,3152.6 639,3166.2 640,3159.3 641,3155.1 642,3148.2 643,3147.9 644,3153.7 645,3160.6 646,3169.3 647,3160.9 648,3152.7 649,3150.5 650,3159.4 651,3160.8 652,3160.4 653,3157.8 654,3149.3 655,3154.2 656,3157.8 657,3157.1 658,3159.8 659,3158.2 660,3150.2 661,3153 662,3161.7 663,3163.9 664,3167.3 665,3164.7 666,3168.4 667,3156.1 668,3157.9 669,3161 670,3168.1 671,3175.7 672,3168.9 673,3163.2 674,3163.6 675,3157.5 676,3165.7 677,3168.6 678,3155.3 679,3155.1 680,3154.3 681,3151.7 682,3146.4 683,3154.6 684,3163.2 685,3165.6 686,3165.7 687,3158 688,3154.2 689,3160 690,3166.3 691,3178.8 692,3171.3 693,3162.8 694,3162.1 695,3166.6 696,3170.1 697,3174 698,3169 699,3165.4 700,3161.8 701,3160.1 702,3163.3 703,3170.5 704,3162.4 705,3154 706,3156.5 707,3166.9 708,3173.4 709,3169.7 710,3170.2 711,3166.5 712,3163.4 713,3169.9 714,3169 715,3171.3 716,3166.5 717,3164.7 718,3159.3 719,3157.6 720,3159.3 721,3163.4 722,3165.6 723,3167.3 724,3165.8 725,3167 726,3162.9 727,3168.4 728,3169.7 729,3162.4 730,3151.5 731,3153.7 732,3160.6 733,3162.6 734,3167.7 735,3165.8 736,3154.2 737,3150.9 738,3160.6 739,3163.5 740,3155 741,3149.1 742,3144.7 743,3141.9 744,3137.9 745,3135.5 745.2,3135.4 746,3136.8 747,3140.8 748,3142.9 749,3143.6 750,3149.8 751,3159.1 752,3156.1 753,3152.9 754,3151.2 755,3165.5 756,3162.5 757,3164.2 758,3165.1 759,3160.3 760,3146.9 761,3152.9 762,3163.7 763,3176.9 764,3174 765,3172 766,3171.3 767,3161.1 768,3152.5 769,3158.6 770,3163.7 771,3170.1 772,3167 773,3166 774,3156.6 775,3157.3 776,3162.2 777,3166.2 778,3174.9 779,3175 780,3174.1 781,3160.9 782,3156.7 783,3159.4 784,3168.2 785,3163.3 786,3158.7 787,3157.5 788,3157.8 789,3162.7 790,3171.1 791,3169.8 792,3163 793,3165 794,3156 795,3153.5 796,3160.6 797,3163.5 798,3168.5 799,3158 800,3160.6 801,3153.3 802,3161.2 803,3166.9 804,3176.2 805,3165.5 806,3165 807,3163.7 808,3170 809,3171.6 810,3172 811,3157.8 812,3156.5 813,3157 814,3161.2 815,3161.4 816,3152.2 817,3158.7 818,3159.4 819,3172.8 820,3157 821,3142.6 822,3142 823,3134.5 824,3120.3 825,3102.9 826,3091.7 826.3,3091 827,3094.6 828,3108.1 829,3125.4 830,3140.6 831,3149.5 832,3163.3 833,3158.7 834,3157.8 835,3150 836,3154.5 837,3161 838,3167.9 839,3163.4 840,3162 841,3152.2 842,3147.7 843,3152.9 844,3161.6 845,3164.9 846,3172.2 847,3169.2 848,3158.4 849,3158.7 850,3161.3 851,3158 852,3161.3 853,3170.8 854,3161.4 855,3158.6 856,3161 857,3158.8 858,3166.3 859,3175.5 860,3167.8 861,3163.9 862,3158.9 863,3170 864,3173.9 865,3166.7 866,3162 867,3160.2 868,3159.9 869,3162.7 870,3166.2 871,3170.8 872,3172.5 873,3160.6 874,3163.1 875,3162 876,3165.6 877,3170.4 878,3168.9 879,3154 880,3161.8 881,3162 882,3177.2 883,3165.2 884,3150.8 885,3148.8 886,3160.3 887,3173.1 888,3171 889,3151.3 890,3158.5 891,3165.2 892,3173 893,3172.9 894,3160.7 895,3154 896,3157.5 897,3162.3 898,3160.8 899,3161.7 900,3154.2 901,3149.1 902,3150.6 903,3149.5 904,3156.7 905,3163 906,3169.5 907,3166.9 908,3164.2 909,3160.6 910,3164.3 911,3174.3 912,3182.8 913,3173.2 914,3170.9 915,3165.7 916,3158 917,3161.9 918,3159.3 919,3161.9 920,3163.2 921,3161.6 922,3156 923,3161.6 924,3160.9 925,3164.5 926,3167.5 927,3158.9 928,3158.1 929,3155.3 930,3163.2 931,3168.5 932,3158 933,3155.2 934,3155.6 935,3165.1 936,3175.1 937,3164.6 938,3158.6 939,3167.4 940,3172.7 941,3160.1 942,3159.5 943,3159.4 944,3160.4 945,3162.3 946,3167 947,3173.9 948,3167.6 949,3160.4 950,3154.6 951,3154.7 952,3162.1 953,3157.1 954,3162.7 955,3156.7 956,3155.7 957,3146.8 958,3150.7 959,3162.3 960,3168.3 961,3166.9 962,3169.8 963,3162.4 964,3150.3 965,3159.4 966,3165.6 967,3178.6 968,3172.2 969,3158.7 970,3157.7 971,3168.9 972,3170.7 973,3178.9 974,3170.1 975,3163.3 976,3157.3 977,3162.4 978,3164.4 979,3171 980,3169.4 981,3148.1 982,3150.7 983,3157.9 984,3163.2 985,3164.7 986,3150.7 987,3152.9 988,3155.5 989,3159 990,3154.1 991,3146.3 992,3141.9 993,3140.2 993.4,3140 994,3140.5 995,3144.7 996,3148.7 997,3150.5 998,3153.7 999,3153.2 1000,3157.5 1001,3158.1 1002,3165.8 1003,3175.5 1004,3166.7 1005,3166.2 1006,3157.3 1007,3161.3 1008,3164.9 1009,3162.1 1010,3164.5 1011,3162.9 1012,3153.7 1013,3156.2 1014,3166 1015,3165 1016,3170.5 1017,3172 1018,3160.7 1019,3152.4 1020,3167.3 1021,3172.1 1022,3169.3 1023,3165 1024,3160 1025,3152.8 1026,3160.7 1027,3170.4 1028,3180.3 1029,3169.5 1030,3165.1 1031,3158.4 1032,3169.2 1033,3174.9 1034,3173.8 1035,3167.8 1036,3165.8 1037,3161.5 1038,3169.6 1039,3179.1 1040,3179 1041,3173.7 1042,3166.5 1043,3170.7 1044,3169.4 1045,3175.6 1046,3177.4 1047,3171.9 1048,3172.6 1049,3159.7 1050,3166.8 1051,3174.9 1052,3187.3 1053,3180.3 1054,3165.6 1055,3168.7 1056,3174.3 1057,3182 1058,3167 1059,3168.7 1060,3156.9 1061,3162.2 1062,3167.3 1063,3174.2 1064,3180.5 1065,3180.1 1066,3172.9 1067,3167.2 1068,3166.7 1069,3171.4 1070,3174.5 1071,3176 1072,3166.9 1073,3170.3 1074,3162.8 1075,3171.9 1076,3181.9 1077,3182.2 1078,3176.1 1079,3167 1080,3172.9 1081,3174.9 1082,3174.7 1083,3169.6 1084,3164.9 1085,3167.2 1086,3164.9 1087,3170.8 1088,3170.7 1089,3170.9 1090,3160.7 1091,3155.2 1092,3162.1 1093,3171.8 1094,3182.5 1095,3171.7 1096,3165 1097,3159.5 1098,3157.4 1099,3163.8 1100,3166.7 1101,3165.8 1102,3149.2 1103,3156.8 1104,3165.3 1105,3167.7 1106,3178.1 1107,3169.4 1108,3159.3 1109,3154 1110,3151.2 1111,3157.2 1112,3162.8 1113,3169.6 1114,3176.9 1115,3169.6 1116,3163.8 1117,3158.3 1118,3161.2 1119,3163.9 1120,3162.5 1121,3157.7 1122,3154.5 1123,3150.4 1124,3147.3 1125,3141.3 1126,3133.3 1127,3112 1128,3091 1129,3073.6 1129.8,3069 1130,3069.3 1131,3079.1 1132,3099.1 1133,3120 1134,3139.1 1135,3153.3 1136,3159.3 1137,3151.1 1138,3151.8 1139,3160.8 1140,3161 1141,3160.8 1142,3158.1 1143,3156.3 1144,3149.4 1145,3157 1146,3166.7 1147,3163.8 1148,3162.6 1149,3156.5 1150,3162.6 1151,3168.5 1152,3174.7 1153,3168.3 1154,3162.2 1155,3161 1156,3165.2 1157,3161.9 1158,3162.7 1159,3154.8 1160,3154.5 1161,3158.8 1162,3164.5 1163,3163.6 1164,3163.3 1165,3167.7 1166,3165.5 1167,3163.5 1168,3162.1 1169,3163 1170,3162.7 1171,3162.6 1172,3167.3 1173,3170.9 1174,3166.5 1175,3162.7 1176,3160.3 1177,3154.9 1178,3163.7 1179,3166.2 1180,3179.4 1181,3165.9 1182,3160.3 1183,3160.8 1184,3160.6 1185,3166.6 1186,3164.5 1187,3159.8 1188,3157.7 1189,3155.1 1190,3158.3 1191,3167.5 1192,3159.7 1193,3162.2 1194,3162.4 1195,3166.8 1196,3169.3 1197,3178.8 1198,3172.6 1199,3168.5 1200,3171.4 1201,3163.7 1202,3164 1203,3169.9 1204,3166.6 1205,3164.6 1206,3159.6 1207,3160.6 1208,3156.8 1209,3155.8 1210,3153.2"/>
<text transform="translate(153.2,129.8) scale(1.28,1.1)" x="-12.7" y="10.9" font-size="47">α</text>
<text transform="translate(180.8,143.5) scale(1.12,1.07)" x="-12.5" y="11.5" font-size="47">β</text>
<text transform="translate(231.2,199) scale(1.12,1.07)" x="-12.5" y="11.5" font-size="47">β</text>
<text transform="translate(334.7,241.9) scale(1.28,1.1)" x="-12.7" y="10.9" font-size="47">α</text>
<text transform="translate(348.3,286.8) scale(1.28,1.1)" x="-12.7" y="10.9" font-size="47">α</text>
<text x="358" y="70" font-size="47">A</text>
<text transform="translate(383.4,251.5) scale(1.12,1.07)" x="-12.5" y="11.5" font-size="47">β</text>
<text transform="translate(414.7,236) scale(1.12,1.07)" x="-12.5" y="11.5" font-size="47">β</text>
<text transform="translate(466.5,133.4) scale(1.12,1.07)" x="-12.5" y="11.5" font-size="47">β</text>
<text transform="translate(527.3,222.5) scale(1.12,1.07)" x="-12.5" y="11.5" font-size="47">β</text>
<text transform="translate(589.4,325.9) scale(1.12,1.07)" x="-12.5" y="11.5" font-size="47">β</text>
<text transform="translate(738.6,317) scale(1.12,1.07)" x="-12.5" y="11.5" font-size="47">β</text>
<text transform="translate(765,297.5) scale(1.12,1.07)" x="-12.5" y="11.5" font-size="47">β</text>
<text transform="translate(843.4,339.5) scale(1.12,1.07)" x="-12.5" y="11.5" font-size="47">β</text>
<text x="849" y="339" font-size="47">A</text>
<text x="878.2" y="323.3" font-size="47">A</text>
<text x="1008" y="357.4" font-size="47">A</text>
<text x="1142" y="370.5" font-size="47">A</text>
<text transform="translate(176.6,405.4) scale(1.12,1.07)" x="-12.5" y="11.5" font-size="47">β</text>
<text transform="translate(235,461) scale(1.12,1.07)" x="-12.5" y="11.5" font-size="47">β</text>
<text transform="translate(327.8,474.7) scale(1.28,1.1)" x="-12.7" y="10.9" font-size="47">α</text>
<text transform="translate(420.5,454) scale(1.12,1.07)" x="-12.5" y="11.5" font-size="47">β</text>
<text transform="translate(469.3,395.5) scale(1.12,1.07)" x="-12.5" y="11.5" font-size="47">β</text>
<text transform="translate(524,464) scale(1.12,1.07)" x="-12.5" y="11.5" font-size="47">β</text>
<text x="574.3" y="538.8" font-size="47">T</text>
<text x="606.2" y="574.9" font-size="47">T</text>
<text transform="translate(762,518.5) scale(1.12,1.07)" x="-12.5" y="11.5" font-size="47">β</text>
<text transform="translate(837,570) scale(1.12,1.07)" x="-12.5" y="11.5" font-size="47">β</text>
<text x="849" y="567.9" font-size="47">A</text>
<text x="1001.8" y="589" font-size="47">A</text>
<text x="1143.8" y="599.5" font-size="47">A</text>
<text transform="translate(233.8,673.5) scale(1.12,1.07)" x="-12.5" y="11.5" font-size="47">β</text>
<text transform="translate(333.7,689.3) scale(1.28,1.1)" x="-12.7" y="10.9" font-size="47">α</text>
<text transform="translate(415.6,724.5) scale(1.12,1.07)" x="-12.5" y="11.5" font-size="47">β</text>
<text transform="translate(469.3,673.5) scale(1.12,1.07)" x="-12.5" y="11.5" font-size="47">β</text>
<text transform="translate(530.8,739.5) scale(1.12,1.07)" x="-12.5" y="11.5" font-size="47">β</text>
<text x="577.1" y="732.4" font-size="47">T</text>
<text x="611.5" y="687.6" font-size="47">T</text>
<text transform="translate(755.2,796) scale(1.12,1.07)" x="-24.4" y="11.5" font-size="47">ββ</text>
<text transform="translate(843.4,780) scale(1.12,1.07)" x="-12.5" y="11.5" font-size="47">β</text>
<text x="853" y="790.5" font-size="47">A</text>
<text x="1000.5" y="818" font-size="47">A</text>
<text x="1147" y="775.5" font-size="47">A</text>
<text x="141" y="1422.4" font-size="45">W</text>
<text x="322.5" y="1526.9" font-size="45">W</text>
<text x="365.9" y="1474.8" font-size="45">A</text>
<text x="380.1" y="1444.7" font-size="45">W</text>
<text x="421" y="1495.1" font-size="45">W</text>
<text x="429.7" y="1282.1" font-size="45">W</text>
<text x="407.3" y="1572.8" font-size="45">W</text>
<text x="463.3" y="1572.8" font-size="45">W</text>
<text x="525.1" y="1649.1" font-size="45">T</text>
<text x="579.7" y="1553.4" font-size="45">T</text>
<text x="609" y="1497" font-size="45">T</text>
<text x="585.2" y="1635.1" font-size="45">W</text>
<text x="631" y="1629.2" font-size="45">W</text>
<text x="759.8" y="1675.4" font-size="45">W</text>
<text x="841.2" y="1655.7" font-size="45">T</text>
<text x="896.1" y="1684.4" font-size="45">W</text>
<text x="997.7" y="1673.4" font-size="45">A</text>
<text x="1140.2" y="1626.4" font-size="45">A</text>
<text x="136.8" y="1678.9" font-size="45">W</text>
<text x="324.1" y="1749.2" font-size="45">W</text>
<text x="358.2" y="1718.9" font-size="45">A</text>
<text x="394.9" y="1723.9" font-size="45">W</text>
<text x="411.3" y="1769.8" font-size="45">W</text>
<text x="393" y="1814.7" font-size="45">W</text>
<text x="462.3" y="1802.9" font-size="45">W</text>
<text x="588.6" y="1762.2" font-size="45">T</text>
<text x="661.7" y="1785.5" font-size="45">T</text>
<text x="529" y="1836.2" font-size="45">T</text>
<text x="589" y="1835.9" font-size="45">W</text>
<text x="634.9" y="1850.8" font-size="45">W</text>
<text x="835.2" y="1843.4" font-size="45">T</text>
<text x="997.7" y="1875.4" font-size="45">A</text>
<text x="1128.5" y="1819.7" font-size="45">A</text>
<text x="368.7" y="1971.9" font-size="45">A</text>
<text x="427.3" y="2064.4" font-size="45">W</text>
<text x="525.6" y="2045.7" font-size="45">T</text>
<text x="542.2" y="1973.7" font-size="45">T</text>
<text x="663" y="1979.5" font-size="45">T</text>
<text x="837" y="1997.4" font-size="45">T</text>
<text x="1003.7" y="2085.6" font-size="45">A</text>
<text x="1133.4" y="1984.2" font-size="45">A</text>
<text transform="translate(333.6,2635.2) scale(1.28,1.1)" x="-12" y="10.3" font-size="44.5">α</text>
<text x="355.5" y="2596.6" font-size="44.5">A</text>
<text x="382.2" y="2643.4" font-size="44.5">W</text>
<text transform="translate(384.7,2681) scale(1.12,1.07)" x="-11.8" y="10.9" font-size="44.5">β</text>
<text transform="translate(414.7,2676.6) scale(1.12,1.07)" x="-11.8" y="10.9" font-size="44.5">β</text>
<text x="406.8" y="2717.2" font-size="44.5">W</text>
<text x="422.6" y="2583.7" font-size="44.5">W</text>
<text transform="translate(466.5,2646.8) scale(1.12,1.07)" x="-11.8" y="10.9" font-size="44.5">β</text>
<text transform="translate(507.7,2682.5) scale(1.28,1.1)" x="-12" y="10.3" font-size="44.5">α</text>
<text transform="translate(527.8,2708.3) scale(1.12,1.07)" x="-11.8" y="10.9" font-size="44.5">β</text>
<text x="614" y="2764.6" font-size="44.5">W</text>
<text transform="translate(732.2,2750.7) scale(1.12,1.07)" x="-23.1" y="10.9" font-size="44.5">ββ</text>
<text x="732.7" y="2711.3" font-size="44.5">A</text>
<text x="816.7" y="2759.5" font-size="44.5">T</text>
<text x="978.4" y="2785.5" font-size="44.5">A</text>
<text x="1117.4" y="2772" font-size="44.5">A</text>
<text transform="translate(333.3,2852.6) scale(1.28,1.1)" x="-12" y="10.3" font-size="44.5">α</text>
<text x="353.6" y="2810.5" font-size="44.5">A</text>
<text x="369.1" y="2870.8" font-size="44.5">W</text>
<text transform="translate(411.2,2883.6) scale(1.12,1.07)" x="-11.8" y="10.9" font-size="44.5">β</text>
<text transform="translate(468.6,2857.2) scale(1.12,1.07)" x="-11.8" y="10.9" font-size="44.5">β</text>
<text transform="translate(512.5,2889.5) scale(1.28,1.1)" x="-12" y="10.3" font-size="44.5">α</text>
<text x="569.8" y="2941.3" font-size="44.5">T</text>
<text transform="translate(733.9,2931) scale(1.12,1.07)" x="-23.1" y="10.9" font-size="44.5">ββ</text>
<text x="727.7" y="2899.2" font-size="44.5">A</text>
<text x="812.4" y="2955.6" font-size="44.5">T</text>
<text x="978.4" y="2960.1" font-size="44.5">A</text>
<text x="1117.4" y="2949.2" font-size="44.5">A</text>
<text x="357.4" y="2989.4" font-size="44.5">A</text>
<text transform="translate(404,3069) scale(1.12,1.07)" x="-11.8" y="10.9" font-size="44.5">β</text>
<text transform="translate(473.5,3069) scale(1.12,1.07)" x="-11.8" y="10.9" font-size="44.5">β</text>
<text x="601.7" y="2853.5" font-size="44.5" stroke="#000" stroke-width="0.9">T</text>
<text x="734.4" y="3126.7" font-size="44.5">A</text>
<text x="815.4" y="3079.3" font-size="44.5" stroke="#000" stroke-width="0.9">T</text>
<text x="974.3" y="3128.7" font-size="44.5">A</text>
<text x="1112.1" y="3063.3" font-size="44.5">A</text>
<text x="1207" y="390.5" font-size="58" font-weight="bold">5 min</text>
<text x="1204.3" y="618" font-size="57.3" font-weight="bold">3 min</text>
<text x="1198.5" y="834" font-size="56.4" font-weight="bold">1 min</text>
<text x="1229.8" y="1751" font-size="55.6" font-weight="bold">5 min</text>
<text x="1222.9" y="1938.5" font-size="55.7" font-weight="bold">3 min</text>
<text x="1224.3" y="2136" font-size="56.3" font-weight="bold">1 min</text>
<text x="1213.2" y="2847" font-size="54.3" font-weight="bold">5 min</text>
<text x="1215.9" y="3011.8" font-size="55.4" font-weight="bold">3 min</text>
<text x="1210.9" y="3175.4" font-size="56.4" font-weight="bold">1 min</text>
<line x1="467.8" y1="1577" x2="460.6" y2="1586.2" stroke="#000" stroke-width="2.6"/>
<polygon points="448.3,1602 455.5,1582.2 465.7,1590.2"/>
<line x1="465.9" y1="1801" x2="456.9" y2="1819.9" stroke="#000" stroke-width="2.6"/>
<polygon points="448.3,1838 451,1817.1 462.8,1822.7"/>
<line x1="659" y1="1777.8" x2="644.9" y2="1765.5" stroke="#000" stroke-width="2.6"/>
<polygon points="629.8,1752.4 649.2,1760.6 640.6,1770.4"/>
<line x1="559.9" y1="1957.3" x2="577" y2="1943.9" stroke="#000" stroke-width="2.6"/>
<polygon points="592.7,1931.6 581,1949.1 572.9,1938.8"/>
<line x1="666.8" y1="1954.8" x2="645.3" y2="1940.2" stroke="#000" stroke-width="2.6"/>
<polygon points="628.7,1929 648.9,1934.8 641.6,1945.6"/>
</svg></body></html>
